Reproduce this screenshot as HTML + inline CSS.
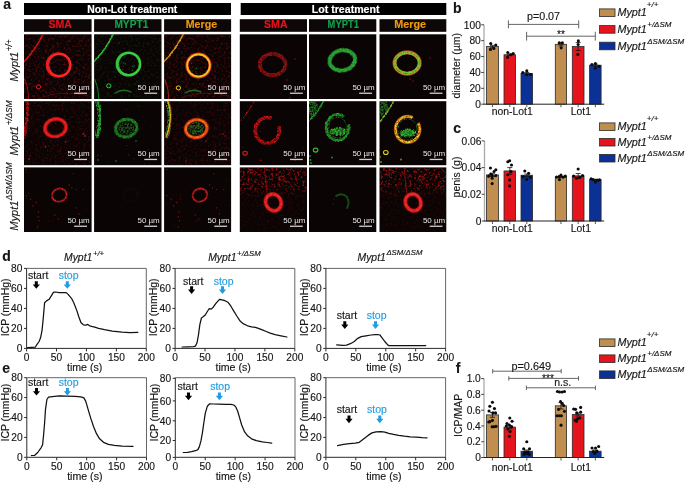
<!DOCTYPE html>
<html><head><meta charset="utf-8"><title>Figure</title>
<style>
html,body{margin:0;padding:0;background:#fff;width:685px;height:484px;overflow:hidden}
svg{display:block;will-change:transform;filter:blur(0.3px)}
text{font-family:"Liberation Sans",sans-serif}
</style></head><body>
<svg width="685" height="484" viewBox="0 0 685 484">
<text x="3.30" y="8.80" font-size="14" fill="#161616" stroke="#161616" stroke-width="0.15" font-weight="bold" >a</text>
<rect x="24" y="3" width="207" height="12" fill="#000"/>
<text x="87.20" y="13.10" font-size="10.4" fill="#fff" stroke="#fff" stroke-width="0.15" font-weight="bold" >Non-Lot treatment</text>
<rect x="240.7" y="3" width="205.6" height="12" fill="#000"/>
<text x="311.80" y="13.10" font-size="10.6" fill="#fff" stroke="#fff" stroke-width="0.15" font-weight="bold" >Lot treatment</text>
<rect x="24" y="19.2" width="67.6" height="12.6" fill="#0d0707"/>
<text x="48.50" y="27.60" font-size="10.6" fill="#E8121E" stroke="#E8121E" stroke-width="0.15" font-weight="bold" textLength="23.5" lengthAdjust="spacingAndGlyphs">SMA</text>
<rect x="94.1" y="19.2" width="67.4" height="12.6" fill="#0d0707"/>
<text x="114.40" y="27.60" font-size="10.5" fill="#13A24C" stroke="#13A24C" stroke-width="0.15" font-weight="bold" textLength="33.9" lengthAdjust="spacingAndGlyphs">MYPT1</text>
<rect x="164.1" y="19.2" width="67" height="12.6" fill="#0d0707"/>
<text x="185.70" y="27.60" font-size="10.6" fill="#F09A12" stroke="#F09A12" stroke-width="0.15" font-weight="bold" textLength="31.4" lengthAdjust="spacingAndGlyphs">Merge</text>
<rect x="239.8" y="19.2" width="67.2" height="12.6" fill="#0d0707"/>
<text x="264.10" y="27.60" font-size="10.6" fill="#E8121E" stroke="#E8121E" stroke-width="0.15" font-weight="bold" textLength="23.4" lengthAdjust="spacingAndGlyphs">SMA</text>
<rect x="309" y="19.2" width="67.3" height="12.6" fill="#0d0707"/>
<text x="327.60" y="27.60" font-size="10.3" fill="#13A24C" stroke="#13A24C" stroke-width="0.15" font-weight="bold" textLength="31.3" lengthAdjust="spacingAndGlyphs">MYPT1</text>
<rect x="379.5" y="19.2" width="66.8" height="12.6" fill="#0d0707"/>
<text x="394.20" y="27.60" font-size="10.6" fill="#F09A12" stroke="#F09A12" stroke-width="0.15" font-weight="bold" textLength="31.8" lengthAdjust="spacingAndGlyphs">Merge</text>
<text x="17.60" y="81.50" font-size="10.9" font-style="italic" fill="#161616" stroke="#161616" stroke-width="0.15" transform="rotate(-90 17.60 81.50)">Mypt1<tspan font-size="8.2" dx="0.6" dy="-5.8">+/+</tspan></text>
<text x="17.60" y="155.60" font-size="10.9" font-style="italic" fill="#161616" stroke="#161616" stroke-width="0.15" transform="rotate(-90 17.60 155.60)">Mypt1<tspan font-size="8.2" dx="0.6" dy="-5.8">+/ΔSM</tspan></text>
<text x="17.60" y="230.40" font-size="10.9" font-style="italic" fill="#161616" stroke="#161616" stroke-width="0.15" transform="rotate(-90 17.60 230.40)">Mypt1<tspan font-size="8.2" dx="0.6" dy="-5.8">ΔSM/ΔSM</tspan></text>
<defs><filter id="bl" x="-20%" y="-20%" width="140%" height="140%"><feGaussianBlur stdDeviation="0.35"/></filter><filter id="bl2" x="-20%" y="-20%" width="140%" height="140%"><feGaussianBlur stdDeviation="0.7"/></filter></defs>
<defs><filter id="spk" x="-20%" y="-20%" width="140%" height="140%"><feTurbulence type="fractalNoise" baseFrequency="0.55" numOctaves="2" seed="4" result="n"/><feColorMatrix in="n" type="matrix" values="0 0 0 0 0 0 0 0 0 0 0 0 0 0 0 3.2 0 0 0 -1.1" result="m"/><feComposite in="SourceGraphic" in2="m" operator="in" result="c"/><feGaussianBlur in="c" stdDeviation="0.3"/></filter><filter id="spk2" x="-20%" y="-20%" width="140%" height="140%"><feTurbulence type="fractalNoise" baseFrequency="0.6" numOctaves="2" seed="9" result="n"/><feColorMatrix in="n" type="matrix" values="0 0 0 0 0 0 0 0 0 0 0 0 0 0 0 4 0 0 0 -1.8" result="m"/><feComposite in="SourceGraphic" in2="m" operator="in" result="c"/><feGaussianBlur in="c" stdDeviation="0.3"/></filter><filter id="hz" x="0" y="0" width="100%" height="100%"><feTurbulence type="fractalNoise" baseFrequency="0.42" numOctaves="3" seed="21" result="n"/><feColorMatrix in="n" type="matrix" values="0 0 0 0 0 0 0 0 0 0 0 0 0 0 0 5 0 0 0 -2.55" result="m"/><feComposite in="SourceGraphic" in2="m" operator="in"/></filter><linearGradient id="fadeV" x1="0" y1="0" x2="0" y2="1"><stop offset="0" stop-color="#fff"/><stop offset="0.28" stop-color="#fff"/><stop offset="0.45" stop-color="#333"/><stop offset="1" stop-color="#222"/></linearGradient><mask id="mtop" maskContentUnits="objectBoundingBox"><rect width="1" height="1" fill="url(#fadeV)"/></mask></defs>
<clipPath id="c1"><rect x="24" y="34.3" width="67.6" height="64.7"/></clipPath>
<rect x="24" y="34.3" width="67.6" height="64.7" fill="#0b0404"/>
<g clip-path="url(#c1)">
<rect x="24" y="34.3" width="67.6" height="64.7" fill="#c01818" opacity="0.3" filter="url(#hz)"/>
<rect x="45.9" y="44.1" width="1.0" height="1.0" fill="#9a1010" opacity="0.23"/><rect x="60.2" y="58.0" width="0.5" height="0.5" fill="#9a1010" opacity="0.40"/><rect x="26.5" y="62.4" width="0.6" height="0.6" fill="#9a1010" opacity="0.24"/><rect x="52.7" y="87.8" width="0.6" height="0.6" fill="#9a1010" opacity="0.29"/><rect x="66.4" y="95.6" width="1.0" height="1.0" fill="#9a1010" opacity="0.36"/><rect x="90.0" y="37.3" width="1.2" height="1.2" fill="#9a1010" opacity="0.32"/><rect x="33.8" y="41.9" width="0.7" height="0.7" fill="#9a1010" opacity="0.53"/><rect x="36.2" y="71.9" width="1.0" height="1.0" fill="#9a1010" opacity="0.35"/><rect x="61.0" y="38.4" width="0.5" height="0.5" fill="#9a1010" opacity="0.28"/><rect x="70.0" y="62.0" width="0.8" height="0.8" fill="#9a1010" opacity="0.43"/><rect x="54.6" y="53.7" width="1.1" height="1.1" fill="#9a1010" opacity="0.48"/><rect x="40.5" y="71.5" width="0.9" height="0.9" fill="#9a1010" opacity="0.55"/><rect x="73.3" y="52.9" width="1.3" height="1.3" fill="#9a1010" opacity="0.25"/><rect x="52.3" y="83.3" width="0.6" height="0.6" fill="#9a1010" opacity="0.40"/><rect x="26.7" y="77.5" width="1.1" height="1.1" fill="#9a1010" opacity="0.43"/><rect x="83.2" y="54.6" width="1.1" height="1.1" fill="#9a1010" opacity="0.44"/><rect x="63.2" y="63.8" width="1.2" height="1.2" fill="#9a1010" opacity="0.58"/><rect x="56.0" y="77.3" width="0.5" height="0.5" fill="#9a1010" opacity="0.48"/><rect x="67.7" y="97.5" width="1.2" height="1.2" fill="#9a1010" opacity="0.31"/><rect x="50.1" y="77.6" width="0.5" height="0.5" fill="#9a1010" opacity="0.38"/><rect x="35.4" y="41.9" width="0.5" height="0.5" fill="#9a1010" opacity="0.51"/><rect x="32.7" y="50.3" width="0.8" height="0.8" fill="#9a1010" opacity="0.55"/><rect x="29.4" y="63.4" width="0.9" height="0.9" fill="#9a1010" opacity="0.55"/><rect x="79.4" y="90.2" width="0.7" height="0.7" fill="#9a1010" opacity="0.37"/><rect x="48.3" y="91.5" width="1.3" height="1.3" fill="#9a1010" opacity="0.26"/>
<path d="M43.5,33.3 Q36,49.3 24.2,61.3" fill="none" stroke="#e01818" stroke-width="1.9" opacity="0.9" stroke-linecap="round" filter="url(#spk)"/>
<path d="M43.5,33.3 Q36,49.3 24.2,61.3" fill="none" stroke="#e01818" stroke-width="1.1" opacity="0.85" stroke-linecap="round" filter="url(#bl)"/>
<path d="M24.5,79.3 Q29,89.3 28.5,100.3" fill="none" stroke="#c01515" stroke-width="1.1" opacity="0.7" stroke-linecap="round" filter="url(#bl)"/>
<path d="M42,97.3 Q64,89.3 90,96.3" fill="none" stroke="#c01515" stroke-width="0.9" opacity="0.35" stroke-linecap="round" filter="url(#bl)"/>
<ellipse cx="58.6" cy="65.0" rx="11.6" ry="11.4" fill="none" stroke="#ee1a1a" stroke-width="2.6" opacity="1" transform="rotate(0 58.6 65.0)" filter="url(#bl)"/>
<ellipse cx="59.8" cy="65.0" rx="11.0" ry="11.0" fill="none" stroke="#ff3838" stroke-width="1.1" opacity="0.8" transform="rotate(0 59.8 65.0)" filter="url(#bl)"/>
<ellipse cx="38.4" cy="86.9" rx="2.2" ry="2.0" fill="none" stroke="#ee1a1a" stroke-width="1.0" opacity="1" transform="rotate(0 38.4 86.9)" filter="url(#bl)"/>
<text x="67.4" y="89.9" font-size="7.95" fill="#e6e6e6">50 µm</text>
<rect x="74.2" y="92.6" width="12.8" height="1.3" fill="#cfcfcf"/>
</g>
<clipPath id="c2"><rect x="94.1" y="34.3" width="67.4" height="64.7"/></clipPath>
<rect x="94.1" y="34.3" width="67.4" height="64.7" fill="#0b0404"/>
<g clip-path="url(#c2)">
<rect x="94.1" y="34.3" width="67.4" height="64.7" fill="#1a8a20" opacity="0.15" filter="url(#hz)"/>
<rect x="106.0" y="49.3" width="0.7" height="0.7" fill="#0a7010" opacity="0.47"/><rect x="133.8" y="51.3" width="0.5" height="0.5" fill="#0a7010" opacity="0.44"/><rect x="119.0" y="70.9" width="1.3" height="1.3" fill="#0a7010" opacity="0.56"/><rect x="128.8" y="74.3" width="1.0" height="1.0" fill="#0a7010" opacity="0.27"/><rect x="154.7" y="84.8" width="1.2" height="1.2" fill="#0a7010" opacity="0.61"/><rect x="120.5" y="60.1" width="0.6" height="0.6" fill="#0a7010" opacity="0.54"/><rect x="98.3" y="38.7" width="0.7" height="0.7" fill="#0a7010" opacity="0.32"/><rect x="117.0" y="37.7" width="0.5" height="0.5" fill="#0a7010" opacity="0.32"/><rect x="100.9" y="57.8" width="0.5" height="0.5" fill="#0a7010" opacity="0.64"/><rect x="135.5" y="43.9" width="0.7" height="0.7" fill="#0a7010" opacity="0.41"/><rect x="118.6" y="42.2" width="1.2" height="1.2" fill="#0a7010" opacity="0.70"/><rect x="125.5" y="65.6" width="0.6" height="0.6" fill="#0a7010" opacity="0.30"/><rect x="117.2" y="51.4" width="1.2" height="1.2" fill="#0a7010" opacity="0.32"/><rect x="95.7" y="95.8" width="0.9" height="0.9" fill="#0a7010" opacity="0.32"/><rect x="130.7" y="36.0" width="0.9" height="0.9" fill="#0a7010" opacity="0.69"/>
<path d="M113.6,33.3 Q106.1,49.3 94.3,61.3" fill="none" stroke="#34c83a" stroke-width="1.9" opacity="0.9" stroke-linecap="round" filter="url(#spk)"/>
<path d="M113.6,33.3 Q106.1,49.3 94.3,61.3" fill="none" stroke="#34c83a" stroke-width="1.1" opacity="0.85" stroke-linecap="round" filter="url(#bl)"/>
<path d="M94.6,79.3 Q99.1,89.3 98.6,100.3" fill="none" stroke="#22a028" stroke-width="1.1" opacity="0.7" stroke-linecap="round" filter="url(#bl)"/>
<ellipse cx="128.5" cy="64.0" rx="11.6" ry="11.3" fill="none" stroke="#36c83c" stroke-width="2.5" opacity="1" transform="rotate(0 128.5 64.0)" filter="url(#bl)"/>
<ellipse cx="129.5" cy="64.0" rx="11.0" ry="10.9" fill="none" stroke="#44d848" stroke-width="1.0" opacity="0.8" transform="rotate(0 129.5 64.0)" filter="url(#bl)"/>
<ellipse cx="108.8" cy="85.9" rx="2.2" ry="2.0" fill="none" stroke="#36c83c" stroke-width="1.0" opacity="1" transform="rotate(0 108.8 85.9)" filter="url(#bl)"/>
<rect x="132.1" y="68.4" width="0.7" height="0.7" fill="#30b030" opacity="0.42"/><rect x="122.3" y="69.3" width="0.9" height="0.9" fill="#30b030" opacity="0.60"/><rect x="124.6" y="62.7" width="1.1" height="1.1" fill="#30b030" opacity="0.69"/><rect x="131.9" y="69.7" width="1.2" height="1.2" fill="#30b030" opacity="0.58"/><rect x="123.2" y="66.2" width="0.8" height="0.8" fill="#30b030" opacity="0.26"/><rect x="120.4" y="63.4" width="0.7" height="0.7" fill="#30b030" opacity="0.56"/><rect x="133.4" y="65.4" width="1.2" height="1.2" fill="#30b030" opacity="0.69"/><rect x="133.4" y="64.4" width="0.7" height="0.7" fill="#30b030" opacity="0.35"/><rect x="122.8" y="62.5" width="1.0" height="1.0" fill="#30b030" opacity="0.66"/><rect x="131.8" y="65.8" width="1.0" height="1.0" fill="#30b030" opacity="0.61"/>
<path d="M115,93 Q123,88 131,92" fill="none" stroke="#2a9a2a" stroke-width="1.3" opacity="0.7" stroke-linecap="round" filter="url(#bl)"/>
<text x="137.5" y="89.9" font-size="7.95" fill="#e6e6e6">50 µm</text>
<rect x="144.3" y="92.6" width="12.8" height="1.3" fill="#cfcfcf"/>
</g>
<clipPath id="c3"><rect x="164.1" y="34.3" width="67" height="64.7"/></clipPath>
<rect x="164.1" y="34.3" width="67" height="64.7" fill="#0b0404"/>
<g clip-path="url(#c3)">
<rect x="164.1" y="34.3" width="67" height="64.7" fill="#c01818" opacity="0.28" filter="url(#hz)"/>
<rect x="169.8" y="77.0" width="1.2" height="1.2" fill="#9a1010" opacity="0.51"/><rect x="214.4" y="65.2" width="0.6" height="0.6" fill="#9a1010" opacity="0.52"/><rect x="186.4" y="86.1" width="1.3" height="1.3" fill="#9a1010" opacity="0.36"/><rect x="191.0" y="95.6" width="1.1" height="1.1" fill="#9a1010" opacity="0.27"/><rect x="172.6" y="44.1" width="1.2" height="1.2" fill="#9a1010" opacity="0.52"/><rect x="173.9" y="87.8" width="1.3" height="1.3" fill="#9a1010" opacity="0.46"/><rect x="187.6" y="69.8" width="0.6" height="0.6" fill="#9a1010" opacity="0.21"/><rect x="229.1" y="76.3" width="0.9" height="0.9" fill="#9a1010" opacity="0.57"/><rect x="193.2" y="90.7" width="1.2" height="1.2" fill="#9a1010" opacity="0.28"/><rect x="181.0" y="53.3" width="0.7" height="0.7" fill="#9a1010" opacity="0.43"/><rect x="181.5" y="61.4" width="0.6" height="0.6" fill="#9a1010" opacity="0.56"/><rect x="187.8" y="63.9" width="1.0" height="1.0" fill="#9a1010" opacity="0.56"/><rect x="192.3" y="93.7" width="0.9" height="0.9" fill="#9a1010" opacity="0.41"/><rect x="199.2" y="35.5" width="0.9" height="0.9" fill="#9a1010" opacity="0.27"/><rect x="164.6" y="86.0" width="0.6" height="0.6" fill="#9a1010" opacity="0.39"/><rect x="212.7" y="70.3" width="0.8" height="0.8" fill="#9a1010" opacity="0.41"/><rect x="201.3" y="85.0" width="0.6" height="0.6" fill="#9a1010" opacity="0.42"/><rect x="180.7" y="52.2" width="1.1" height="1.1" fill="#9a1010" opacity="0.40"/><rect x="201.7" y="83.5" width="1.2" height="1.2" fill="#9a1010" opacity="0.38"/><rect x="205.1" y="67.0" width="0.9" height="0.9" fill="#9a1010" opacity="0.48"/><rect x="194.4" y="68.8" width="0.9" height="0.9" fill="#9a1010" opacity="0.58"/><rect x="210.9" y="91.0" width="1.3" height="1.3" fill="#9a1010" opacity="0.30"/><rect x="201.6" y="95.3" width="1.2" height="1.2" fill="#9a1010" opacity="0.25"/><rect x="172.2" y="62.9" width="0.6" height="0.6" fill="#9a1010" opacity="0.30"/><rect x="169.0" y="77.6" width="1.1" height="1.1" fill="#9a1010" opacity="0.56"/>
<path d="M183.6,33.3 Q176.1,49.3 164.29999999999998,61.3" fill="none" stroke="#e0a020" stroke-width="1.9" opacity="0.9" stroke-linecap="round" filter="url(#spk)"/>
<path d="M183.6,33.3 Q176.1,49.3 164.29999999999998,61.3" fill="none" stroke="#e0a020" stroke-width="1.1" opacity="0.85" stroke-linecap="round" filter="url(#bl)"/>
<path d="M164.6,79.3 Q169.1,89.3 168.6,100.3" fill="none" stroke="#c03015" stroke-width="1.1" opacity="0.7" stroke-linecap="round" filter="url(#bl)"/>
<path d="M182.1,97.3 Q204.1,89.3 230.1,96.3" fill="none" stroke="#c03015" stroke-width="0.9" opacity="0.35" stroke-linecap="round" filter="url(#bl)"/>
<ellipse cx="198.5" cy="65.5" rx="11.6" ry="11.4" fill="none" stroke="#e03010" stroke-width="3.0" opacity="1" transform="rotate(0 198.5 65.5)" filter="url(#bl)"/>
<ellipse cx="198.5" cy="65.5" rx="11.3" ry="11.1" fill="none" stroke="#f0c828" stroke-width="1.7" opacity="1" transform="rotate(0 198.5 65.5)" filter="url(#bl)"/>
<ellipse cx="178.4" cy="87.9" rx="2.2" ry="2.0" fill="none" stroke="#e8d020" stroke-width="1.0" opacity="1" transform="rotate(0 178.4 87.9)" filter="url(#bl)"/>
<rect x="192.2" y="70.6" width="1.0" height="1.0" fill="#30b030" opacity="0.31"/><rect x="202.4" y="73.6" width="0.7" height="0.7" fill="#30b030" opacity="0.68"/><rect x="195.6" y="67.8" width="1.3" height="1.3" fill="#30b030" opacity="0.62"/><rect x="192.3" y="67.2" width="0.9" height="0.9" fill="#30b030" opacity="0.40"/><rect x="192.7" y="65.8" width="1.1" height="1.1" fill="#30b030" opacity="0.26"/><rect x="197.8" y="67.3" width="0.5" height="0.5" fill="#30b030" opacity="0.40"/><rect x="198.7" y="68.1" width="0.6" height="0.6" fill="#30b030" opacity="0.69"/><rect x="201.0" y="73.7" width="0.6" height="0.6" fill="#30b030" opacity="0.37"/><rect x="190.6" y="71.3" width="0.7" height="0.7" fill="#30b030" opacity="0.31"/><rect x="195.9" y="72.9" width="1.2" height="1.2" fill="#30b030" opacity="0.37"/><rect x="192.1" y="73.0" width="1.0" height="1.0" fill="#30b030" opacity="0.57"/><rect x="191.3" y="62.7" width="1.1" height="1.1" fill="#30b030" opacity="0.44"/>
<path d="M185,93 Q193,88 201,92" fill="none" stroke="#2a9a2a" stroke-width="1.3" opacity="0.7" stroke-linecap="round" filter="url(#bl)"/>
<text x="207.5" y="89.9" font-size="7.95" fill="#e6e6e6">50 µm</text>
<rect x="214.3" y="92.6" width="12.8" height="1.3" fill="#cfcfcf"/>
</g>
<clipPath id="c4"><rect x="239.8" y="34.3" width="67.2" height="64.7"/></clipPath>
<rect x="239.8" y="34.3" width="67.2" height="64.7" fill="#0b0404"/>
<g clip-path="url(#c4)">
<ellipse cx="272.6" cy="64.5" rx="12.8" ry="10.8" fill="none" stroke="#c81818" stroke-width="3.6" opacity="1" transform="rotate(0 272.6 64.5)" filter="url(#spk)"/>
<ellipse cx="272.6" cy="64.5" rx="12.8" ry="10.8" fill="none" stroke="#801010" stroke-width="3.4" opacity="0.6" transform="rotate(0 272.6 64.5)" filter="url(#bl)"/>
<circle cx="295" cy="59" r="0.7" fill="#c01818" opacity="0.8"/><circle cx="287" cy="80" r="0.7" fill="#c01818" opacity="0.8"/><circle cx="290" cy="98" r="0.7" fill="#c01818" opacity="0.8"/>
<text x="283.2" y="89.9" font-size="7.95" fill="#e6e6e6">50 µm</text>
<rect x="290.0" y="92.6" width="12.8" height="1.3" fill="#cfcfcf"/>
</g>
<clipPath id="c5"><rect x="309" y="34.3" width="67.3" height="64.7"/></clipPath>
<rect x="309" y="34.3" width="67.3" height="64.7" fill="#0b0404"/>
<g clip-path="url(#c5)">
<ellipse cx="342.3" cy="60.3" rx="12.8" ry="10.1" fill="none" stroke="#40d048" stroke-width="3.8" opacity="1" transform="rotate(-10 342.3 60.3)" filter="url(#spk)"/>
<ellipse cx="342.3" cy="60.3" rx="12.8" ry="10.1" fill="none" stroke="#28a830" stroke-width="3.2" opacity="0.85" transform="rotate(-10 342.3 60.3)" filter="url(#bl)"/>
<text x="352.4" y="89.9" font-size="7.95" fill="#e6e6e6">50 µm</text>
<rect x="359.2" y="92.6" width="12.8" height="1.3" fill="#cfcfcf"/>
</g>
<clipPath id="c6"><rect x="379.5" y="34.3" width="66.8" height="64.7"/></clipPath>
<rect x="379.5" y="34.3" width="66.8" height="64.7" fill="#0b0404"/>
<g clip-path="url(#c6)">
<ellipse cx="407.1" cy="63.0" rx="12.6" ry="10.7" fill="none" stroke="#c05018" stroke-width="4.0" opacity="0.9" transform="rotate(0 407.1 63.0)" filter="url(#bl)"/>
<ellipse cx="407.1" cy="63.0" rx="12.4" ry="10.5" fill="none" stroke="#8cc030" stroke-width="3.0" opacity="1" transform="rotate(0 407.1 63.0)" filter="url(#bl)"/>
<ellipse cx="407.1" cy="63.0" rx="12.2" ry="10.3" fill="none" stroke="#40c038" stroke-width="2.0" opacity="0.9" transform="rotate(0 407.1 63.0)" filter="url(#spk)"/>
<ellipse cx="407.1" cy="63.0" rx="12.8" ry="10.9" fill="none" stroke="#e03818" stroke-width="1.2" opacity="0.8" transform="rotate(0 407.1 63.0)" filter="url(#spk)"/>
<circle cx="430" cy="58" r="0.7" fill="#c01818" opacity="0.8"/><circle cx="410" cy="79" r="0.7" fill="#c01818" opacity="0.8"/><circle cx="413" cy="81" r="0.7" fill="#c01818" opacity="0.8"/>
<text x="422.9" y="89.9" font-size="7.95" fill="#e6e6e6">50 µm</text>
<rect x="429.7" y="92.6" width="12.8" height="1.3" fill="#cfcfcf"/>
</g>
<clipPath id="c7"><rect x="24" y="101.2" width="67.6" height="64.0"/></clipPath>
<rect x="24" y="101.2" width="67.6" height="64.0" fill="#0b0404"/>
<g clip-path="url(#c7)">
<rect x="24" y="101.2" width="67.6" height="64.0" fill="#c01818" opacity="0.18" filter="url(#hz)"/>
<rect x="28.9" y="161.3" width="1.0" height="1.0" fill="#9a1010" opacity="0.52"/><rect x="29.7" y="156.0" width="0.6" height="0.6" fill="#9a1010" opacity="0.55"/><rect x="54.7" y="122.9" width="0.9" height="0.9" fill="#9a1010" opacity="0.57"/><rect x="42.1" y="109.5" width="0.9" height="0.9" fill="#9a1010" opacity="0.30"/><rect x="31.4" y="111.5" width="0.5" height="0.5" fill="#9a1010" opacity="0.28"/><rect x="45.1" y="120.7" width="1.1" height="1.1" fill="#9a1010" opacity="0.32"/><rect x="57.8" y="112.6" width="0.8" height="0.8" fill="#9a1010" opacity="0.21"/><rect x="40.9" y="102.2" width="1.1" height="1.1" fill="#9a1010" opacity="0.42"/><rect x="36.8" y="131.6" width="1.2" height="1.2" fill="#9a1010" opacity="0.24"/><rect x="79.4" y="128.9" width="0.9" height="0.9" fill="#9a1010" opacity="0.53"/><rect x="50.6" y="133.6" width="1.1" height="1.1" fill="#9a1010" opacity="0.59"/><rect x="47.2" y="154.5" width="1.1" height="1.1" fill="#9a1010" opacity="0.45"/><rect x="51.4" y="123.4" width="0.5" height="0.5" fill="#9a1010" opacity="0.25"/><rect x="28.8" y="148.6" width="0.7" height="0.7" fill="#9a1010" opacity="0.27"/><rect x="29.7" y="155.0" width="1.2" height="1.2" fill="#9a1010" opacity="0.47"/><rect x="43.1" y="116.7" width="0.7" height="0.7" fill="#9a1010" opacity="0.38"/><rect x="34.6" y="129.7" width="0.7" height="0.7" fill="#9a1010" opacity="0.58"/><rect x="89.7" y="136.2" width="0.7" height="0.7" fill="#9a1010" opacity="0.59"/><rect x="44.9" y="124.0" width="0.5" height="0.5" fill="#9a1010" opacity="0.35"/><rect x="56.1" y="133.4" width="0.7" height="0.7" fill="#9a1010" opacity="0.40"/><rect x="24.5" y="118.1" width="0.6" height="0.6" fill="#9a1010" opacity="0.36"/><rect x="26.8" y="102.6" width="0.7" height="0.7" fill="#9a1010" opacity="0.29"/><rect x="63.6" y="135.1" width="1.1" height="1.1" fill="#9a1010" opacity="0.46"/><rect x="72.4" y="157.5" width="0.8" height="0.8" fill="#9a1010" opacity="0.33"/><rect x="90.1" y="110.8" width="1.1" height="1.1" fill="#9a1010" opacity="0.46"/>
<path d="M27.2,101.2 Q28.5,112 25.6,129 Q25,133 24,137" fill="none" stroke="#e01818" stroke-width="3.2" opacity="0.9" stroke-linecap="round" filter="url(#spk)"/>
<path d="M27.7,101.2 Q28.5,112 25.6,129 Q25,133 24,137" fill="none" stroke="#a01010" stroke-width="1.2" opacity="0.6" stroke-linecap="round" filter="url(#bl)"/>
<ellipse cx="55.5" cy="127.8" rx="10.6" ry="8.8" fill="none" stroke="#ee1a1a" stroke-width="3.4" opacity="1" transform="rotate(-12 55.5 127.8)" filter="url(#bl)"/>
<ellipse cx="55.5" cy="127.8" rx="9.4" ry="7.6" fill="none" stroke="#901010" stroke-width="0.7" opacity="0.8" transform="rotate(-12 55.5 127.8)" filter="url(#bl)"/>
<circle cx="65.5" cy="141.8" r="0.9" fill="#d01818" opacity="0.8"/><circle cx="83.3" cy="134" r="0.9" fill="#d01818" opacity="0.8"/><circle cx="85" cy="136" r="0.9" fill="#d01818" opacity="0.8"/><circle cx="45.5" cy="146.8" r="0.9" fill="#d01818" opacity="0.8"/><circle cx="29.1" cy="158.9" r="0.9" fill="#d01818" opacity="0.8"/>
<text x="67.4" y="156.1" font-size="7.95" fill="#e6e6e6">50 µm</text>
<rect x="74.2" y="158.8" width="12.8" height="1.3" fill="#cfcfcf"/>
</g>
<clipPath id="c8"><rect x="94.1" y="101.2" width="67.4" height="64.0"/></clipPath>
<rect x="94.1" y="101.2" width="67.4" height="64.0" fill="#0b0404"/>
<g clip-path="url(#c8)">
<rect x="97.1" y="154.7" width="1.2" height="1.2" fill="#0a7010" opacity="0.53"/><rect x="143.6" y="153.2" width="0.6" height="0.6" fill="#0a7010" opacity="0.49"/><rect x="128.1" y="154.6" width="1.1" height="1.1" fill="#0a7010" opacity="0.62"/><rect x="133.5" y="158.3" width="1.0" height="1.0" fill="#0a7010" opacity="0.56"/><rect x="109.6" y="103.2" width="0.6" height="0.6" fill="#0a7010" opacity="0.41"/><rect x="101.2" y="154.7" width="0.9" height="0.9" fill="#0a7010" opacity="0.53"/><rect x="136.3" y="144.8" width="0.9" height="0.9" fill="#0a7010" opacity="0.25"/><rect x="147.9" y="149.1" width="0.9" height="0.9" fill="#0a7010" opacity="0.49"/><rect x="138.5" y="105.4" width="1.1" height="1.1" fill="#0a7010" opacity="0.36"/><rect x="99.1" y="118.2" width="1.1" height="1.1" fill="#0a7010" opacity="0.34"/><rect x="144.0" y="163.6" width="0.9" height="0.9" fill="#0a7010" opacity="0.42"/><rect x="126.4" y="145.0" width="1.1" height="1.1" fill="#0a7010" opacity="0.53"/><rect x="137.4" y="106.2" width="0.6" height="0.6" fill="#0a7010" opacity="0.36"/><rect x="144.2" y="120.7" width="1.0" height="1.0" fill="#0a7010" opacity="0.26"/><rect x="98.2" y="118.4" width="1.0" height="1.0" fill="#0a7010" opacity="0.56"/><rect x="139.6" y="119.8" width="0.9" height="0.9" fill="#0a7010" opacity="0.46"/><rect x="125.5" y="108.8" width="1.2" height="1.2" fill="#0a7010" opacity="0.34"/><rect x="160.0" y="161.1" width="0.5" height="0.5" fill="#0a7010" opacity="0.46"/><rect x="149.4" y="163.2" width="0.9" height="0.9" fill="#0a7010" opacity="0.37"/><rect x="108.2" y="161.7" width="0.7" height="0.7" fill="#0a7010" opacity="0.51"/>
<path d="M96.5,101.2 Q103.5,116 96.6,136" fill="none" stroke="#30b838" stroke-width="4.5" opacity="0.9" stroke-linecap="round" filter="url(#spk)"/>
<path d="M97.5,101.2 Q103.5,116 96.6,136" fill="none" stroke="#2aa832" stroke-width="1.4" opacity="0.8" stroke-linecap="round" filter="url(#bl)"/>
<ellipse cx="126.2" cy="128.2" rx="8" ry="6.5" fill="#2aa030" opacity="0.5" filter="url(#spk)"/>
<ellipse cx="126.2" cy="128.2" rx="10.8" ry="8.8" fill="none" stroke="#2cb834" stroke-width="3.0" opacity="1" transform="rotate(-10 126.2 128.2)" filter="url(#spk)"/>
<ellipse cx="126.2" cy="128.2" rx="10.8" ry="8.8" fill="none" stroke="#1a7a20" stroke-width="2.2" opacity="0.8" transform="rotate(-10 126.2 128.2)" filter="url(#bl)"/>
<circle cx="136" cy="141" r="0.8" fill="#20a028" opacity="0.8"/><circle cx="116" cy="161" r="0.8" fill="#20a028" opacity="0.8"/><circle cx="98" cy="160" r="0.8" fill="#20a028" opacity="0.8"/>
<text x="137.5" y="156.1" font-size="7.95" fill="#e6e6e6">50 µm</text>
<rect x="144.3" y="158.8" width="12.8" height="1.3" fill="#cfcfcf"/>
</g>
<clipPath id="c9"><rect x="164.1" y="101.2" width="67" height="64.0"/></clipPath>
<rect x="164.1" y="101.2" width="67" height="64.0" fill="#0b0404"/>
<g clip-path="url(#c9)">
<rect x="164.1" y="101.2" width="67" height="64.0" fill="#c01818" opacity="0.18" filter="url(#hz)"/>
<rect x="173.6" y="134.7" width="1.3" height="1.3" fill="#9a1010" opacity="0.25"/><rect x="219.1" y="133.8" width="1.2" height="1.2" fill="#9a1010" opacity="0.48"/><rect x="179.6" y="158.7" width="0.9" height="0.9" fill="#9a1010" opacity="0.21"/><rect x="164.6" y="132.7" width="0.9" height="0.9" fill="#9a1010" opacity="0.32"/><rect x="173.5" y="123.2" width="0.8" height="0.8" fill="#9a1010" opacity="0.54"/><rect x="164.6" y="149.2" width="1.2" height="1.2" fill="#9a1010" opacity="0.25"/><rect x="226.2" y="146.8" width="1.2" height="1.2" fill="#9a1010" opacity="0.32"/><rect x="189.0" y="126.3" width="1.3" height="1.3" fill="#9a1010" opacity="0.44"/><rect x="188.3" y="128.6" width="0.7" height="0.7" fill="#9a1010" opacity="0.22"/><rect x="170.9" y="154.6" width="0.7" height="0.7" fill="#9a1010" opacity="0.57"/><rect x="180.8" y="118.2" width="0.9" height="0.9" fill="#9a1010" opacity="0.28"/><rect x="189.1" y="162.4" width="1.2" height="1.2" fill="#9a1010" opacity="0.52"/><rect x="206.4" y="159.7" width="1.3" height="1.3" fill="#9a1010" opacity="0.42"/><rect x="212.3" y="104.4" width="1.1" height="1.1" fill="#9a1010" opacity="0.38"/><rect x="214.5" y="142.4" width="0.7" height="0.7" fill="#9a1010" opacity="0.22"/><rect x="226.2" y="109.3" width="0.9" height="0.9" fill="#9a1010" opacity="0.34"/><rect x="184.1" y="148.5" width="1.3" height="1.3" fill="#9a1010" opacity="0.30"/><rect x="208.1" y="120.5" width="0.9" height="0.9" fill="#9a1010" opacity="0.36"/><rect x="175.3" y="111.5" width="0.7" height="0.7" fill="#9a1010" opacity="0.56"/><rect x="197.4" y="115.3" width="1.2" height="1.2" fill="#9a1010" opacity="0.60"/><rect x="194.2" y="110.1" width="0.7" height="0.7" fill="#9a1010" opacity="0.24"/><rect x="187.0" y="107.0" width="0.7" height="0.7" fill="#9a1010" opacity="0.30"/><rect x="202.3" y="158.0" width="1.1" height="1.1" fill="#9a1010" opacity="0.37"/><rect x="191.8" y="134.7" width="0.8" height="0.8" fill="#9a1010" opacity="0.34"/><rect x="168.3" y="119.0" width="1.3" height="1.3" fill="#9a1010" opacity="0.25"/>
<path d="M166.5,101.2 Q173.5,116 166.6,136" fill="none" stroke="#40b030" stroke-width="4.5" opacity="0.9" stroke-linecap="round" filter="url(#spk)"/>
<path d="M167.8,101.2 Q173.5,116 166.6,136" fill="none" stroke="#e8c020" stroke-width="1.4" opacity="0.9" stroke-linecap="round" filter="url(#bl)"/>
<path d="M169.3,101.2 Q174.8,116 167.8,136" fill="none" stroke="#d03010" stroke-width="0.8" opacity="0.7" stroke-linecap="round" filter="url(#bl)"/>
<ellipse cx="196.3" cy="128.6" rx="8" ry="6.5" fill="#2aa030" opacity="0.6" filter="url(#spk)"/>
<ellipse cx="196.3" cy="128.6" rx="10.8" ry="9.0" fill="none" stroke="#e84010" stroke-width="3.2" opacity="1" transform="rotate(-10 196.3 128.6)" filter="url(#bl)"/>
<ellipse cx="196.3" cy="128.6" rx="10.4" ry="8.6" fill="none" stroke="#f0b820" stroke-width="1.4" opacity="0.9" transform="rotate(-10 196.3 128.6)" filter="url(#spk)"/>
<circle cx="206" cy="141" r="0.8" fill="#c01818" opacity="0.8"/><circle cx="223" cy="134" r="0.8" fill="#c01818" opacity="0.8"/><circle cx="225" cy="136" r="0.8" fill="#c01818" opacity="0.8"/><circle cx="186" cy="161" r="0.8" fill="#c01818" opacity="0.8"/>
<text x="207.5" y="156.1" font-size="7.95" fill="#e6e6e6">50 µm</text>
<rect x="214.3" y="158.8" width="12.8" height="1.3" fill="#cfcfcf"/>
</g>
<clipPath id="c10"><rect x="239.8" y="101.2" width="67.2" height="64.0"/></clipPath>
<rect x="239.8" y="101.2" width="67.2" height="64.0" fill="#0b0404"/>
<g clip-path="url(#c10)">
<rect x="273.6" y="141.5" width="1.2" height="1.2" fill="#9a1010" opacity="0.29"/><rect x="258.0" y="117.1" width="0.8" height="0.8" fill="#9a1010" opacity="0.38"/><rect x="303.9" y="155.5" width="1.2" height="1.2" fill="#9a1010" opacity="0.21"/><rect x="242.0" y="146.6" width="1.2" height="1.2" fill="#9a1010" opacity="0.39"/><rect x="279.3" y="101.7" width="0.8" height="0.8" fill="#9a1010" opacity="0.57"/><rect x="295.3" y="155.9" width="1.3" height="1.3" fill="#9a1010" opacity="0.30"/><rect x="247.1" y="111.1" width="0.9" height="0.9" fill="#9a1010" opacity="0.47"/><rect x="303.1" y="147.4" width="1.0" height="1.0" fill="#9a1010" opacity="0.51"/><rect x="270.5" y="136.5" width="0.5" height="0.5" fill="#9a1010" opacity="0.51"/><rect x="255.4" y="160.1" width="1.0" height="1.0" fill="#9a1010" opacity="0.32"/><rect x="248.4" y="117.3" width="1.0" height="1.0" fill="#9a1010" opacity="0.48"/><rect x="247.3" y="105.7" width="0.9" height="0.9" fill="#9a1010" opacity="0.43"/><rect x="265.9" y="115.5" width="1.0" height="1.0" fill="#9a1010" opacity="0.20"/><rect x="260.1" y="130.7" width="1.3" height="1.3" fill="#9a1010" opacity="0.46"/><rect x="299.2" y="131.6" width="0.7" height="0.7" fill="#9a1010" opacity="0.30"/><rect x="304.4" y="146.3" width="0.7" height="0.7" fill="#9a1010" opacity="0.21"/><rect x="273.3" y="144.4" width="0.8" height="0.8" fill="#9a1010" opacity="0.30"/><rect x="284.6" y="160.4" width="0.7" height="0.7" fill="#9a1010" opacity="0.21"/><rect x="262.5" y="128.1" width="1.0" height="1.0" fill="#9a1010" opacity="0.28"/><rect x="293.4" y="148.5" width="0.9" height="0.9" fill="#9a1010" opacity="0.28"/>
<path d="M254.4,101 Q248,112 240.1,121.8" fill="none" stroke="#d01818" stroke-width="1.3" opacity="0.9" stroke-linecap="round" filter="url(#spk)"/>
<ellipse cx="267.2" cy="130.4" rx="12.0" ry="12.9" fill="none" stroke="#f01c1c" stroke-width="3.6" opacity="1" transform="rotate(0 267.2 130.4)" filter="url(#spk)" stroke-dasharray="62.6 11.0 4.7 0"/>
<ellipse cx="267.2" cy="130.4" rx="12.0" ry="12.9" fill="none" stroke="#a01010" stroke-width="2.6" opacity="0.6" transform="rotate(0 267.2 130.4)" filter="url(#bl)" stroke-dasharray="62.6 11.0 4.7 0"/>
<ellipse cx="245.1" cy="153.2" rx="2.2" ry="1.9" fill="none" stroke="#e01818" stroke-width="1.1" opacity="1" transform="rotate(0 245.1 153.2)" filter="url(#bl)"/>
<circle cx="260.8" cy="160.3" r="0.8" fill="#d01818" opacity="0.8"/><circle cx="295" cy="160" r="0.8" fill="#d01818" opacity="0.8"/>
<text x="283.2" y="156.1" font-size="7.95" fill="#e6e6e6">50 µm</text>
<rect x="290.0" y="158.8" width="12.8" height="1.3" fill="#cfcfcf"/>
</g>
<clipPath id="c11"><rect x="309" y="101.2" width="67.3" height="64.0"/></clipPath>
<rect x="309" y="101.2" width="67.3" height="64.0" fill="#0b0404"/>
<g clip-path="url(#c11)">
<ellipse cx="313" cy="108" rx="5" ry="9" fill="#2aa030" opacity="0.7" filter="url(#spk)"/>
<path d="M324.1,100.5 Q318,112 309.6,120.4" fill="none" stroke="#34c83a" stroke-width="2.0" opacity="0.85" stroke-linecap="round" filter="url(#spk)"/>
<path d="M324.1,100.5 Q318,112 309.6,120.4" fill="none" stroke="#26a02c" stroke-width="1.0" opacity="0.8" stroke-linecap="round" filter="url(#bl)"/>
<ellipse cx="338" cy="131.5" rx="8.5" ry="4.5" fill="#40d040" opacity="0.85" filter="url(#spk)"/>
<ellipse cx="338" cy="131.5" rx="7" ry="3.5" fill="#26a02c" opacity="0.45" filter="url(#bl2)"/>
<ellipse cx="337.6" cy="127.4" rx="11.4" ry="12.8" fill="none" stroke="#38d040" stroke-width="3.0" opacity="1" transform="rotate(0 337.6 127.4)" filter="url(#spk)" stroke-dasharray="63.4 9.4 5.5 0"/>
<ellipse cx="337.6" cy="127.4" rx="11.4" ry="12.8" fill="none" stroke="#1e8a24" stroke-width="2.0" opacity="0.8" transform="rotate(0 337.6 127.4)" filter="url(#bl)" stroke-dasharray="63.4 9.4 5.5 0"/>
<ellipse cx="337.6" cy="127.4" rx="9.0" ry="10.4" fill="none" stroke="#30c038" stroke-width="1.0" opacity="0.7" transform="rotate(0 337.6 127.4)" filter="url(#spk)"/>
<ellipse cx="315.6" cy="150.1" rx="2.3" ry="2.0" fill="none" stroke="#30c038" stroke-width="1.1" opacity="1" transform="rotate(0 315.6 150.1)" filter="url(#bl)"/>
<circle cx="332" cy="157.5" r="0.9" fill="#30b030" opacity="0.8"/><circle cx="310" cy="156" r="0.9" fill="#30b030" opacity="0.8"/><circle cx="310.5" cy="160" r="0.9" fill="#30b030" opacity="0.8"/><circle cx="311" cy="163" r="0.9" fill="#30b030" opacity="0.8"/>
<text x="352.4" y="156.1" font-size="7.95" fill="#e6e6e6">50 µm</text>
<rect x="359.2" y="158.8" width="12.8" height="1.3" fill="#cfcfcf"/>
</g>
<clipPath id="c12"><rect x="379.5" y="101.2" width="66.8" height="64.0"/></clipPath>
<rect x="379.5" y="101.2" width="66.8" height="64.0" fill="#0b0404"/>
<g clip-path="url(#c12)">
<ellipse cx="383" cy="108" rx="5" ry="9" fill="#2aa030" opacity="0.7" filter="url(#spk)"/>
<path d="M394.1,100.5 Q388,112 379.9,121.8" fill="none" stroke="#60c030" stroke-width="2.0" opacity="0.85" stroke-linecap="round" filter="url(#spk)"/>
<path d="M394.1,100.5 Q388,112 379.9,121.8" fill="none" stroke="#a0c020" stroke-width="1.0" opacity="0.8" stroke-linecap="round" filter="url(#bl)"/>
<ellipse cx="408" cy="133" rx="8.5" ry="4.5" fill="#40d040" opacity="1.0" filter="url(#spk)"/>
<ellipse cx="408" cy="133" rx="7" ry="3.5" fill="#26a02c" opacity="0.6" filter="url(#bl2)"/>
<ellipse cx="407.6" cy="129.4" rx="12.2" ry="13.0" fill="none" stroke="#c86018" stroke-width="3.2" opacity="0.9" transform="rotate(0 407.6 129.4)" filter="url(#bl)" stroke-dasharray="64.1 7.8 6.3 0"/>
<ellipse cx="407.6" cy="129.4" rx="12.0" ry="12.8" fill="none" stroke="#e8e030" stroke-width="2.2" opacity="1" transform="rotate(0 407.6 129.4)" filter="url(#spk)" stroke-dasharray="64.1 7.8 6.3 0"/>
<ellipse cx="407.6" cy="129.4" rx="9.6" ry="10.6" fill="none" stroke="#30a030" stroke-width="1.0" opacity="0.7" transform="rotate(0 407.6 129.4)" filter="url(#spk)"/>
<ellipse cx="385.8" cy="152.5" rx="2.3" ry="2.0" fill="none" stroke="#d8d020" stroke-width="1.1" opacity="1" transform="rotate(0 385.8 152.5)" filter="url(#bl)"/>
<circle cx="401" cy="159.5" r="0.9" fill="#a0b020" opacity="0.8"/><circle cx="380" cy="157" r="0.9" fill="#a0b020" opacity="0.8"/><circle cx="381" cy="162" r="0.9" fill="#a0b020" opacity="0.8"/>
<text x="422.9" y="156.1" font-size="7.95" fill="#e6e6e6">50 µm</text>
<rect x="429.7" y="158.8" width="12.8" height="1.3" fill="#cfcfcf"/>
</g>
<clipPath id="c13"><rect x="24" y="167.4" width="67.6" height="64.6"/></clipPath>
<rect x="24" y="167.4" width="67.6" height="64.6" fill="#0b0404"/>
<g clip-path="url(#c13)">
<rect x="89.6" y="187.5" width="1.2" height="1.2" fill="#b01010" opacity="0.27"/><rect x="39.0" y="216.5" width="0.7" height="0.7" fill="#b01010" opacity="0.49"/><rect x="57.5" y="179.5" width="0.7" height="0.7" fill="#b01010" opacity="0.33"/><rect x="69.0" y="228.7" width="0.6" height="0.6" fill="#b01010" opacity="0.32"/><rect x="38.4" y="230.3" width="0.6" height="0.6" fill="#b01010" opacity="0.22"/><rect x="28.1" y="192.8" width="1.2" height="1.2" fill="#b01010" opacity="0.47"/><rect x="73.5" y="230.5" width="1.2" height="1.2" fill="#b01010" opacity="0.30"/><rect x="36.5" y="227.9" width="1.1" height="1.1" fill="#b01010" opacity="0.21"/><rect x="68.9" y="191.9" width="0.8" height="0.8" fill="#b01010" opacity="0.30"/><rect x="35.4" y="167.9" width="0.7" height="0.7" fill="#b01010" opacity="0.31"/><rect x="88.6" y="175.4" width="1.3" height="1.3" fill="#b01010" opacity="0.26"/><rect x="48.1" y="220.5" width="1.2" height="1.2" fill="#b01010" opacity="0.33"/><rect x="27.3" y="198.0" width="0.8" height="0.8" fill="#b01010" opacity="0.48"/><rect x="37.0" y="190.9" width="1.2" height="1.2" fill="#b01010" opacity="0.21"/><rect x="51.8" y="219.8" width="1.1" height="1.1" fill="#b01010" opacity="0.21"/><rect x="26.4" y="171.4" width="1.2" height="1.2" fill="#b01010" opacity="0.28"/><rect x="74.5" y="225.4" width="0.8" height="0.8" fill="#b01010" opacity="0.28"/><rect x="88.7" y="207.3" width="0.7" height="0.7" fill="#b01010" opacity="0.41"/><rect x="45.4" y="185.2" width="0.5" height="0.5" fill="#b01010" opacity="0.43"/><rect x="86.0" y="208.4" width="1.3" height="1.3" fill="#b01010" opacity="0.21"/>
<circle cx="26.3" cy="195.7" r="0.65" fill="#c01818" opacity="0.7"/><circle cx="30.6" cy="199.2" r="0.65" fill="#c01818" opacity="0.7"/><circle cx="36.3" cy="202.4" r="0.65" fill="#c01818" opacity="0.7"/><circle cx="38.4" cy="212" r="0.65" fill="#c01818" opacity="0.7"/><circle cx="39.1" cy="220.6" r="0.65" fill="#c01818" opacity="0.7"/><circle cx="37.7" cy="227" r="0.65" fill="#c01818" opacity="0.7"/><circle cx="69.1" cy="185" r="0.65" fill="#c01818" opacity="0.7"/><circle cx="71.9" cy="187.8" r="0.65" fill="#c01818" opacity="0.7"/><circle cx="76.2" cy="189.3" r="0.65" fill="#c01818" opacity="0.7"/><circle cx="83.3" cy="189.3" r="0.65" fill="#c01818" opacity="0.7"/><circle cx="73.4" cy="173.6" r="0.65" fill="#c01818" opacity="0.7"/><circle cx="26.3" cy="169.3" r="0.65" fill="#c01818" opacity="0.7"/><circle cx="58.4" cy="219.2" r="0.65" fill="#c01818" opacity="0.7"/><circle cx="76.2" cy="207.8" r="0.65" fill="#c01818" opacity="0.7"/><circle cx="54.8" cy="215" r="0.65" fill="#c01818" opacity="0.7"/><circle cx="33" cy="206" r="0.65" fill="#c01818" opacity="0.7"/><circle cx="38" cy="217" r="0.65" fill="#c01818" opacity="0.7"/><circle cx="79" cy="214" r="0.65" fill="#c01818" opacity="0.7"/>
<ellipse cx="59.3" cy="195.1" rx="7.4" ry="6.5" fill="none" stroke="#c01818" stroke-width="1.5" opacity="0.85" transform="rotate(-20 59.3 195.1)" filter="url(#bl)"/>
<ellipse cx="59.3" cy="195.1" rx="7.4" ry="6.5" fill="none" stroke="#ff3030" stroke-width="1.2" opacity="0.9" transform="rotate(-20 59.3 195.1)" filter="url(#spk)"/>
<text x="67.4" y="222.9" font-size="7.95" fill="#e6e6e6">50 µm</text>
<rect x="74.2" y="225.6" width="12.8" height="1.3" fill="#cfcfcf"/>
</g>
<clipPath id="c14"><rect x="94.1" y="167.4" width="67.4" height="64.6"/></clipPath>
<rect x="94.1" y="167.4" width="67.4" height="64.6" fill="#0b0404"/>
<g clip-path="url(#c14)">
<ellipse cx="130.5" cy="195" rx="7.4" ry="6.5" fill="none" stroke="#1a3a1a" stroke-width="0.9" opacity="0.6" transform="rotate(-20 130.5 195)" filter="url(#bl)" stroke-dasharray="1.2 1.4"/>
<text x="137.5" y="222.9" font-size="7.95" fill="#e6e6e6">50 µm</text>
<rect x="144.3" y="225.6" width="12.8" height="1.3" fill="#cfcfcf"/>
</g>
<clipPath id="c15"><rect x="164.1" y="167.4" width="67" height="64.6"/></clipPath>
<rect x="164.1" y="167.4" width="67" height="64.6" fill="#0b0404"/>
<g clip-path="url(#c15)">
<rect x="179.8" y="198.1" width="1.3" height="1.3" fill="#b01010" opacity="0.49"/><rect x="190.0" y="183.6" width="0.8" height="0.8" fill="#b01010" opacity="0.35"/><rect x="226.3" y="179.2" width="1.1" height="1.1" fill="#b01010" opacity="0.42"/><rect x="219.2" y="217.3" width="1.0" height="1.0" fill="#b01010" opacity="0.30"/><rect x="185.5" y="190.8" width="1.1" height="1.1" fill="#b01010" opacity="0.22"/><rect x="177.3" y="216.0" width="0.7" height="0.7" fill="#b01010" opacity="0.22"/><rect x="166.4" y="203.1" width="0.8" height="0.8" fill="#b01010" opacity="0.49"/><rect x="223.3" y="230.5" width="0.7" height="0.7" fill="#b01010" opacity="0.23"/><rect x="170.6" y="199.6" width="1.1" height="1.1" fill="#b01010" opacity="0.33"/><rect x="179.8" y="194.3" width="1.0" height="1.0" fill="#b01010" opacity="0.40"/><rect x="214.2" y="222.1" width="1.0" height="1.0" fill="#b01010" opacity="0.24"/><rect x="220.4" y="186.4" width="1.0" height="1.0" fill="#b01010" opacity="0.31"/><rect x="213.6" y="180.3" width="0.7" height="0.7" fill="#b01010" opacity="0.27"/><rect x="174.4" y="224.5" width="1.0" height="1.0" fill="#b01010" opacity="0.30"/><rect x="190.6" y="230.5" width="0.9" height="0.9" fill="#b01010" opacity="0.27"/><rect x="218.3" y="209.6" width="1.3" height="1.3" fill="#b01010" opacity="0.23"/><rect x="195.9" y="220.3" width="1.2" height="1.2" fill="#b01010" opacity="0.47"/><rect x="166.8" y="186.4" width="0.6" height="0.6" fill="#b01010" opacity="0.26"/><rect x="229.3" y="205.1" width="1.2" height="1.2" fill="#b01010" opacity="0.31"/><rect x="222.1" y="196.4" width="0.7" height="0.7" fill="#b01010" opacity="0.43"/>
<circle cx="166.8" cy="195.7" r="0.65" fill="#c01818" opacity="0.7"/><circle cx="171.1" cy="199.2" r="0.65" fill="#c01818" opacity="0.7"/><circle cx="176.8" cy="202.4" r="0.65" fill="#c01818" opacity="0.7"/><circle cx="178.9" cy="212" r="0.65" fill="#c01818" opacity="0.7"/><circle cx="179.6" cy="220.6" r="0.65" fill="#c01818" opacity="0.7"/><circle cx="178.2" cy="227" r="0.65" fill="#c01818" opacity="0.7"/><circle cx="209.6" cy="185" r="0.65" fill="#c01818" opacity="0.7"/><circle cx="212.4" cy="187.8" r="0.65" fill="#c01818" opacity="0.7"/><circle cx="216.7" cy="189.3" r="0.65" fill="#c01818" opacity="0.7"/><circle cx="223.8" cy="189.3" r="0.65" fill="#c01818" opacity="0.7"/><circle cx="213.9" cy="173.6" r="0.65" fill="#c01818" opacity="0.7"/><circle cx="166.8" cy="169.3" r="0.65" fill="#c01818" opacity="0.7"/><circle cx="198.9" cy="219.2" r="0.65" fill="#c01818" opacity="0.7"/><circle cx="216.7" cy="207.8" r="0.65" fill="#c01818" opacity="0.7"/><circle cx="195.3" cy="215" r="0.65" fill="#c01818" opacity="0.7"/><circle cx="173.5" cy="206" r="0.65" fill="#c01818" opacity="0.7"/><circle cx="178.5" cy="217" r="0.65" fill="#c01818" opacity="0.7"/><circle cx="219.5" cy="214" r="0.65" fill="#c01818" opacity="0.7"/>
<ellipse cx="199.9" cy="195.1" rx="7.4" ry="6.5" fill="none" stroke="#c01818" stroke-width="1.5" opacity="0.85" transform="rotate(-20 199.9 195.1)" filter="url(#bl)"/>
<ellipse cx="199.9" cy="195.1" rx="7.4" ry="6.5" fill="none" stroke="#ff3030" stroke-width="1.2" opacity="0.9" transform="rotate(-20 199.9 195.1)" filter="url(#spk)"/>
<text x="207.5" y="222.9" font-size="7.95" fill="#e6e6e6">50 µm</text>
<rect x="214.3" y="225.6" width="12.8" height="1.3" fill="#cfcfcf"/>
</g>
<clipPath id="c16"><rect x="239.8" y="167.4" width="67.2" height="64.6"/></clipPath>
<rect x="239.8" y="167.4" width="67.2" height="64.6" fill="#0b0404"/>
<g clip-path="url(#c16)">
<g mask="url(#mtop)"><rect x="239.8" y="167.4" width="67.2" height="64.6" fill="#d01818" opacity="0.6" filter="url(#hz)"/></g>
<rect x="303.4" y="174.2" width="1.0" height="1.0" fill="#b01010" opacity="0.55"/><rect x="254.4" y="191.2" width="0.6" height="0.6" fill="#b01010" opacity="0.38"/><rect x="256.9" y="206.1" width="1.0" height="1.0" fill="#b01010" opacity="0.38"/><rect x="240.6" y="188.5" width="1.0" height="1.0" fill="#b01010" opacity="0.37"/><rect x="260.8" y="180.5" width="1.1" height="1.1" fill="#b01010" opacity="0.52"/><rect x="244.1" y="173.9" width="0.8" height="0.8" fill="#b01010" opacity="0.52"/><rect x="282.8" y="173.3" width="0.6" height="0.6" fill="#b01010" opacity="0.58"/><rect x="267.3" y="185.7" width="0.7" height="0.7" fill="#b01010" opacity="0.68"/><rect x="260.8" y="204.0" width="0.8" height="0.8" fill="#b01010" opacity="0.47"/><rect x="297.9" y="230.5" width="0.8" height="0.8" fill="#b01010" opacity="0.38"/><rect x="288.7" y="180.6" width="0.5" height="0.5" fill="#b01010" opacity="0.66"/><rect x="268.3" y="220.4" width="0.8" height="0.8" fill="#b01010" opacity="0.65"/><rect x="270.8" y="177.9" width="0.5" height="0.5" fill="#b01010" opacity="0.52"/><rect x="282.9" y="226.2" width="0.6" height="0.6" fill="#b01010" opacity="0.55"/><rect x="264.7" y="200.0" width="0.6" height="0.6" fill="#b01010" opacity="0.41"/>
<path d="M264.4,168 L267.0,193" fill="none" stroke="#b01010" stroke-width="1.0" opacity="0.7" stroke-linecap="round" filter="url(#bl)"/>
<ellipse cx="281.5" cy="178.1" rx="3" ry="2" fill="none" stroke="#c01818" stroke-width="0.9" opacity="0.8" transform="rotate(0 281.5 178.1)" filter="url(#bl)"/>
<ellipse cx="251.0" cy="171.5" rx="2.5" ry="1.8" fill="none" stroke="#c01818" stroke-width="0.8" opacity="0.7" transform="rotate(0 251.0 171.5)" filter="url(#bl)"/>
<ellipse cx="273.4" cy="202.4" rx="7.6" ry="8.6" fill="none" stroke="#d81818" stroke-width="3.8" opacity="1" transform="rotate(-30 273.4 202.4)" filter="url(#bl)"/>
<ellipse cx="273.4" cy="202.4" rx="7.6" ry="8.6" fill="none" stroke="#ff4040" stroke-width="2.2" opacity="0.8" transform="rotate(-30 273.4 202.4)" filter="url(#spk)"/>
<text x="283.2" y="222.9" font-size="7.95" fill="#e6e6e6">50 µm</text>
<rect x="290.0" y="225.6" width="12.8" height="1.3" fill="#cfcfcf"/>
</g>
<clipPath id="c17"><rect x="309" y="167.4" width="67.3" height="64.6"/></clipPath>
<rect x="309" y="167.4" width="67.3" height="64.6" fill="#0b0404"/>
<g clip-path="url(#c17)">
<path d="M336,196 Q342,192 347,197 Q350,203 347,208" fill="none" stroke="#1a6a1a" stroke-width="1.8" opacity="0.7" stroke-linecap="round" filter="url(#bl)"/>
<circle cx="334" cy="199" r="0.6" fill="#1c601c" opacity="0.8"/><circle cx="333" cy="204" r="0.6" fill="#1c601c" opacity="0.8"/>
<text x="352.4" y="222.9" font-size="7.95" fill="#e6e6e6">50 µm</text>
<rect x="359.2" y="225.6" width="12.8" height="1.3" fill="#cfcfcf"/>
</g>
<clipPath id="c18"><rect x="379.5" y="167.4" width="66.8" height="64.6"/></clipPath>
<rect x="379.5" y="167.4" width="66.8" height="64.6" fill="#0b0404"/>
<g clip-path="url(#c18)">
<g mask="url(#mtop)"><rect x="379.5" y="167.4" width="66.8" height="64.6" fill="#d01818" opacity="0.6" filter="url(#hz)"/></g>
<rect x="414.3" y="227.2" width="0.6" height="0.6" fill="#b01010" opacity="0.50"/><rect x="433.3" y="229.9" width="0.7" height="0.7" fill="#b01010" opacity="0.35"/><rect x="442.5" y="230.4" width="0.9" height="0.9" fill="#b01010" opacity="0.32"/><rect x="441.4" y="192.5" width="1.2" height="1.2" fill="#b01010" opacity="0.55"/><rect x="434.6" y="177.8" width="1.1" height="1.1" fill="#b01010" opacity="0.39"/><rect x="406.5" y="222.1" width="1.2" height="1.2" fill="#b01010" opacity="0.37"/><rect x="394.1" y="193.2" width="0.9" height="0.9" fill="#b01010" opacity="0.45"/><rect x="387.7" y="183.4" width="1.1" height="1.1" fill="#b01010" opacity="0.66"/><rect x="382.2" y="203.7" width="1.1" height="1.1" fill="#b01010" opacity="0.32"/><rect x="435.5" y="175.0" width="1.0" height="1.0" fill="#b01010" opacity="0.52"/><rect x="421.4" y="187.2" width="0.8" height="0.8" fill="#b01010" opacity="0.53"/><rect x="407.9" y="210.0" width="0.9" height="0.9" fill="#b01010" opacity="0.48"/><rect x="381.1" y="207.4" width="0.9" height="0.9" fill="#b01010" opacity="0.39"/><rect x="430.5" y="217.8" width="0.9" height="0.9" fill="#b01010" opacity="0.37"/><rect x="411.1" y="174.3" width="0.6" height="0.6" fill="#b01010" opacity="0.47"/>
<path d="M404.09999999999997,168 L406.7,193" fill="none" stroke="#b01010" stroke-width="1.0" opacity="0.7" stroke-linecap="round" filter="url(#bl)"/>
<ellipse cx="421.2" cy="178.1" rx="3" ry="2" fill="none" stroke="#c01818" stroke-width="0.9" opacity="0.8" transform="rotate(0 421.2 178.1)" filter="url(#bl)"/>
<ellipse cx="390.7" cy="171.5" rx="2.5" ry="1.8" fill="none" stroke="#c01818" stroke-width="0.8" opacity="0.7" transform="rotate(0 390.7 171.5)" filter="url(#bl)"/>
<ellipse cx="413.09999999999997" cy="202.4" rx="7.6" ry="8.6" fill="none" stroke="#d81818" stroke-width="3.8" opacity="1" transform="rotate(-30 413.09999999999997 202.4)" filter="url(#bl)"/>
<ellipse cx="413.09999999999997" cy="202.4" rx="7.6" ry="8.6" fill="none" stroke="#ff4040" stroke-width="2.2" opacity="0.8" transform="rotate(-30 413.09999999999997 202.4)" filter="url(#spk)"/>
<text x="422.9" y="222.9" font-size="7.95" fill="#e6e6e6">50 µm</text>
<rect x="429.7" y="225.6" width="12.8" height="1.3" fill="#cfcfcf"/>
</g>
<text x="2.30" y="260.60" font-size="14" fill="#161616" stroke="#161616" stroke-width="0.15" font-weight="bold" >d</text>
<text x="2.20" y="372.80" font-size="14" fill="#161616" stroke="#161616" stroke-width="0.15" font-weight="bold" >e</text>
<path d="M26.6,268.4 H146.3 V348.4" fill="none" stroke="#555" stroke-width="0.9"/>
<path d="M26.6,268.4 V348.4 H146.3" fill="none" stroke="#2a2a2a" stroke-width="1"/>
<line x1="24.0" y1="348.40" x2="26.6" y2="348.40" stroke="#2a2a2a" stroke-width="1"/>
<text x="22.40" y="352.10" font-size="10.2" text-anchor="end" fill="#161616" stroke="#161616" stroke-width="0.15" >0</text>
<line x1="24.0" y1="328.40" x2="26.6" y2="328.40" stroke="#2a2a2a" stroke-width="1"/>
<text x="22.40" y="332.10" font-size="10.2" text-anchor="end" fill="#161616" stroke="#161616" stroke-width="0.15" >20</text>
<line x1="24.0" y1="308.40" x2="26.6" y2="308.40" stroke="#2a2a2a" stroke-width="1"/>
<text x="22.40" y="312.10" font-size="10.2" text-anchor="end" fill="#161616" stroke="#161616" stroke-width="0.15" >40</text>
<line x1="24.0" y1="288.40" x2="26.6" y2="288.40" stroke="#2a2a2a" stroke-width="1"/>
<text x="22.40" y="292.10" font-size="10.2" text-anchor="end" fill="#161616" stroke="#161616" stroke-width="0.15" >60</text>
<line x1="24.0" y1="268.40" x2="26.6" y2="268.40" stroke="#2a2a2a" stroke-width="1"/>
<text x="22.40" y="272.10" font-size="10.2" text-anchor="end" fill="#161616" stroke="#161616" stroke-width="0.15" >80</text>
<line x1="26.60" y1="348.4" x2="26.60" y2="351.4" stroke="#2a2a2a" stroke-width="1"/>
<text x="26.60" y="361.10" font-size="10.2" text-anchor="middle" fill="#161616" stroke="#161616" stroke-width="0.15" >0</text>
<line x1="56.53" y1="348.4" x2="56.53" y2="351.4" stroke="#2a2a2a" stroke-width="1"/>
<text x="56.53" y="361.10" font-size="10.2" text-anchor="middle" fill="#161616" stroke="#161616" stroke-width="0.15" >50</text>
<line x1="86.45" y1="348.4" x2="86.45" y2="351.4" stroke="#2a2a2a" stroke-width="1"/>
<text x="86.45" y="361.10" font-size="10.2" text-anchor="middle" fill="#161616" stroke="#161616" stroke-width="0.15" >100</text>
<line x1="116.38" y1="348.4" x2="116.38" y2="351.4" stroke="#2a2a2a" stroke-width="1"/>
<text x="116.38" y="361.10" font-size="10.2" text-anchor="middle" fill="#161616" stroke="#161616" stroke-width="0.15" >150</text>
<line x1="146.30" y1="348.4" x2="146.30" y2="351.4" stroke="#2a2a2a" stroke-width="1"/>
<text x="146.30" y="361.10" font-size="10.2" text-anchor="middle" fill="#161616" stroke="#161616" stroke-width="0.15" >200</text>
<text x="84.60" y="370.80" font-size="10.6" text-anchor="middle" fill="#161616" stroke="#161616" stroke-width="0.15" >time (s)</text>
<text x="9.00" y="307.40" font-size="10.45" text-anchor="middle" fill="#161616" stroke="#161616" stroke-width="0.15" transform="rotate(-90 9.00 307.40)">ICP (mmHg)</text>
<polyline points="27.5,347.6 31.8,347.4 35.3,347.2 36.7,344.8 39.1,341.5 40.6,337.6 42.0,330.7 43.2,318.9 44.6,302.8 46.5,300.9 49.1,299.3 51.0,296.3 53.4,292.4 55.4,292.0 59.3,292.6 66.2,292.6 68.1,294.4 71.5,298.3 74.0,303.2 77.0,311.1 78.9,317.0 80.9,322.5 83.3,324.8 85.8,325.2 87.8,324.4 89.7,325.8 91.7,326.4 94.7,327.2 98.6,328.4 104.5,329.7 112.3,331.1 122.2,332.1 130.0,332.7 137.9,332.3" fill="none" stroke="#111" stroke-width="1.25" stroke-linejoin="round" stroke-linecap="round"/>
<text x="27.90" y="279.10" font-size="10.5" fill="#161616" stroke="#161616" stroke-width="0.15" >start</text>
<path d="M34.80,281.20 h3 v3.2 h2.1 L36.30,288.80 L32.70,284.40 h2.1 z" fill="#000"/>
<text x="58.70" y="279.10" font-size="10.5" fill="#1E9DE3" stroke="#1E9DE3" stroke-width="0.15" >stop</text>
<path d="M65.80,281.20 h3 v3.2 h2.1 L67.30,288.80 L63.70,284.40 h2.1 z" fill="#1E9DE3"/>
<path d="M175.1,268.4 H294.8 V348.4" fill="none" stroke="#555" stroke-width="0.9"/>
<path d="M175.1,268.4 V348.4 H294.8" fill="none" stroke="#2a2a2a" stroke-width="1"/>
<line x1="172.5" y1="348.40" x2="175.1" y2="348.40" stroke="#2a2a2a" stroke-width="1"/>
<text x="170.90" y="352.10" font-size="10.2" text-anchor="end" fill="#161616" stroke="#161616" stroke-width="0.15" >0</text>
<line x1="172.5" y1="328.40" x2="175.1" y2="328.40" stroke="#2a2a2a" stroke-width="1"/>
<text x="170.90" y="332.10" font-size="10.2" text-anchor="end" fill="#161616" stroke="#161616" stroke-width="0.15" >20</text>
<line x1="172.5" y1="308.40" x2="175.1" y2="308.40" stroke="#2a2a2a" stroke-width="1"/>
<text x="170.90" y="312.10" font-size="10.2" text-anchor="end" fill="#161616" stroke="#161616" stroke-width="0.15" >40</text>
<line x1="172.5" y1="288.40" x2="175.1" y2="288.40" stroke="#2a2a2a" stroke-width="1"/>
<text x="170.90" y="292.10" font-size="10.2" text-anchor="end" fill="#161616" stroke="#161616" stroke-width="0.15" >60</text>
<line x1="172.5" y1="268.40" x2="175.1" y2="268.40" stroke="#2a2a2a" stroke-width="1"/>
<text x="170.90" y="272.10" font-size="10.2" text-anchor="end" fill="#161616" stroke="#161616" stroke-width="0.15" >80</text>
<line x1="175.10" y1="348.4" x2="175.10" y2="351.4" stroke="#2a2a2a" stroke-width="1"/>
<text x="175.10" y="361.10" font-size="10.2" text-anchor="middle" fill="#161616" stroke="#161616" stroke-width="0.15" >0</text>
<line x1="205.03" y1="348.4" x2="205.03" y2="351.4" stroke="#2a2a2a" stroke-width="1"/>
<text x="205.03" y="361.10" font-size="10.2" text-anchor="middle" fill="#161616" stroke="#161616" stroke-width="0.15" >50</text>
<line x1="234.95" y1="348.4" x2="234.95" y2="351.4" stroke="#2a2a2a" stroke-width="1"/>
<text x="234.95" y="361.10" font-size="10.2" text-anchor="middle" fill="#161616" stroke="#161616" stroke-width="0.15" >100</text>
<line x1="264.88" y1="348.4" x2="264.88" y2="351.4" stroke="#2a2a2a" stroke-width="1"/>
<text x="264.88" y="361.10" font-size="10.2" text-anchor="middle" fill="#161616" stroke="#161616" stroke-width="0.15" >150</text>
<line x1="294.80" y1="348.4" x2="294.80" y2="351.4" stroke="#2a2a2a" stroke-width="1"/>
<text x="294.80" y="361.10" font-size="10.2" text-anchor="middle" fill="#161616" stroke="#161616" stroke-width="0.15" >200</text>
<text x="233.10" y="370.80" font-size="10.6" text-anchor="middle" fill="#161616" stroke="#161616" stroke-width="0.15" >time (s)</text>
<text x="157.50" y="307.40" font-size="10.45" text-anchor="middle" fill="#161616" stroke="#161616" stroke-width="0.15" transform="rotate(-90 157.50 307.40)">ICP (mmHg)</text>
<polyline points="182.1,347.0 187.6,346.8 193.5,346.6 195.5,346.1 197.1,342.5 198.5,334.7 199.8,324.8 201.4,318.0 203.4,316.6 205.3,315.0 207.3,311.5 209.3,308.7 211.2,309.1 213.2,307.2 216.1,303.2 219.5,299.3 222.0,299.9 225.0,300.7 227.9,302.2 230.9,306.2 233.8,311.1 236.8,316.0 240.3,321.3 243.6,323.9 247.6,325.8 251.5,326.8 255.4,327.4 258.4,328.4 262.3,329.9 266.2,331.5 270.2,333.1 275.1,334.7 281.0,335.8 286.9,337.0" fill="none" stroke="#111" stroke-width="1.25" stroke-linejoin="round" stroke-linecap="round"/>
<text x="183.10" y="284.50" font-size="10.5" fill="#161616" stroke="#161616" stroke-width="0.15" >start</text>
<path d="M190.10,286.30 h3 v3.2 h2.1 L191.60,293.90 L188.00,289.50 h2.1 z" fill="#000"/>
<text x="213.70" y="284.50" font-size="10.5" fill="#1E9DE3" stroke="#1E9DE3" stroke-width="0.15" >stop</text>
<path d="M221.00,286.30 h3 v3.2 h2.1 L222.50,293.90 L218.90,289.50 h2.1 z" fill="#1E9DE3"/>
<path d="M325.9,268.4 H445.59999999999997 V348.4" fill="none" stroke="#555" stroke-width="0.9"/>
<path d="M325.9,268.4 V348.4 H445.59999999999997" fill="none" stroke="#2a2a2a" stroke-width="1"/>
<line x1="323.29999999999995" y1="348.40" x2="325.9" y2="348.40" stroke="#2a2a2a" stroke-width="1"/>
<text x="321.70" y="352.10" font-size="10.2" text-anchor="end" fill="#161616" stroke="#161616" stroke-width="0.15" >0</text>
<line x1="323.29999999999995" y1="328.40" x2="325.9" y2="328.40" stroke="#2a2a2a" stroke-width="1"/>
<text x="321.70" y="332.10" font-size="10.2" text-anchor="end" fill="#161616" stroke="#161616" stroke-width="0.15" >20</text>
<line x1="323.29999999999995" y1="308.40" x2="325.9" y2="308.40" stroke="#2a2a2a" stroke-width="1"/>
<text x="321.70" y="312.10" font-size="10.2" text-anchor="end" fill="#161616" stroke="#161616" stroke-width="0.15" >40</text>
<line x1="323.29999999999995" y1="288.40" x2="325.9" y2="288.40" stroke="#2a2a2a" stroke-width="1"/>
<text x="321.70" y="292.10" font-size="10.2" text-anchor="end" fill="#161616" stroke="#161616" stroke-width="0.15" >60</text>
<line x1="323.29999999999995" y1="268.40" x2="325.9" y2="268.40" stroke="#2a2a2a" stroke-width="1"/>
<text x="321.70" y="272.10" font-size="10.2" text-anchor="end" fill="#161616" stroke="#161616" stroke-width="0.15" >80</text>
<line x1="325.90" y1="348.4" x2="325.90" y2="351.4" stroke="#2a2a2a" stroke-width="1"/>
<text x="325.90" y="361.10" font-size="10.2" text-anchor="middle" fill="#161616" stroke="#161616" stroke-width="0.15" >0</text>
<line x1="355.82" y1="348.4" x2="355.82" y2="351.4" stroke="#2a2a2a" stroke-width="1"/>
<text x="355.82" y="361.10" font-size="10.2" text-anchor="middle" fill="#161616" stroke="#161616" stroke-width="0.15" >50</text>
<line x1="385.75" y1="348.4" x2="385.75" y2="351.4" stroke="#2a2a2a" stroke-width="1"/>
<text x="385.75" y="361.10" font-size="10.2" text-anchor="middle" fill="#161616" stroke="#161616" stroke-width="0.15" >100</text>
<line x1="415.67" y1="348.4" x2="415.67" y2="351.4" stroke="#2a2a2a" stroke-width="1"/>
<text x="415.67" y="361.10" font-size="10.2" text-anchor="middle" fill="#161616" stroke="#161616" stroke-width="0.15" >150</text>
<line x1="445.60" y1="348.4" x2="445.60" y2="351.4" stroke="#2a2a2a" stroke-width="1"/>
<text x="445.60" y="361.10" font-size="10.2" text-anchor="middle" fill="#161616" stroke="#161616" stroke-width="0.15" >200</text>
<text x="383.90" y="370.80" font-size="10.6" text-anchor="middle" fill="#161616" stroke="#161616" stroke-width="0.15" >time (s)</text>
<text x="308.30" y="307.40" font-size="10.45" text-anchor="middle" fill="#161616" stroke="#161616" stroke-width="0.15" transform="rotate(-90 308.30 307.40)">ICP (mmHg)</text>
<polyline points="336.7,344.9 342.6,345.3 346.5,345.1 350.4,343.7 354.3,341.5 357.3,338.6 361.2,336.6 366.1,335.8 371.0,335.0 375.0,334.7 377.9,334.5 379.9,335.0 381.9,337.6 384.8,341.5 387.7,344.9 388.7,345.5 425.7,345.5" fill="none" stroke="#111" stroke-width="1.25" stroke-linejoin="round" stroke-linecap="round"/>
<text x="336.70" y="318.90" font-size="10.5" fill="#161616" stroke="#161616" stroke-width="0.15" >start</text>
<path d="M343.30,321.30 h3 v3.2 h2.1 L344.80,328.90 L341.20,324.50 h2.1 z" fill="#000"/>
<text x="366.70" y="318.90" font-size="10.5" fill="#1E9DE3" stroke="#1E9DE3" stroke-width="0.15" >stop</text>
<path d="M374.00,321.30 h3 v3.2 h2.1 L375.50,328.90 L371.90,324.50 h2.1 z" fill="#1E9DE3"/>
<path d="M26.8,377.7 H146.5 V457.29999999999995" fill="none" stroke="#555" stroke-width="0.9"/>
<path d="M26.8,377.7 V457.29999999999995 H146.5" fill="none" stroke="#2a2a2a" stroke-width="1"/>
<line x1="24.2" y1="457.30" x2="26.8" y2="457.30" stroke="#2a2a2a" stroke-width="1"/>
<text x="22.60" y="461.00" font-size="10.2" text-anchor="end" fill="#161616" stroke="#161616" stroke-width="0.15" >0</text>
<line x1="24.2" y1="437.40" x2="26.8" y2="437.40" stroke="#2a2a2a" stroke-width="1"/>
<text x="22.60" y="441.10" font-size="10.2" text-anchor="end" fill="#161616" stroke="#161616" stroke-width="0.15" >20</text>
<line x1="24.2" y1="417.50" x2="26.8" y2="417.50" stroke="#2a2a2a" stroke-width="1"/>
<text x="22.60" y="421.20" font-size="10.2" text-anchor="end" fill="#161616" stroke="#161616" stroke-width="0.15" >40</text>
<line x1="24.2" y1="397.60" x2="26.8" y2="397.60" stroke="#2a2a2a" stroke-width="1"/>
<text x="22.60" y="401.30" font-size="10.2" text-anchor="end" fill="#161616" stroke="#161616" stroke-width="0.15" >60</text>
<line x1="24.2" y1="377.70" x2="26.8" y2="377.70" stroke="#2a2a2a" stroke-width="1"/>
<text x="22.60" y="381.40" font-size="10.2" text-anchor="end" fill="#161616" stroke="#161616" stroke-width="0.15" >80</text>
<line x1="26.80" y1="457.29999999999995" x2="26.80" y2="460.29999999999995" stroke="#2a2a2a" stroke-width="1"/>
<text x="26.80" y="470.00" font-size="10.2" text-anchor="middle" fill="#161616" stroke="#161616" stroke-width="0.15" >0</text>
<line x1="56.73" y1="457.29999999999995" x2="56.73" y2="460.29999999999995" stroke="#2a2a2a" stroke-width="1"/>
<text x="56.73" y="470.00" font-size="10.2" text-anchor="middle" fill="#161616" stroke="#161616" stroke-width="0.15" >50</text>
<line x1="86.65" y1="457.29999999999995" x2="86.65" y2="460.29999999999995" stroke="#2a2a2a" stroke-width="1"/>
<text x="86.65" y="470.00" font-size="10.2" text-anchor="middle" fill="#161616" stroke="#161616" stroke-width="0.15" >100</text>
<line x1="116.58" y1="457.29999999999995" x2="116.58" y2="460.29999999999995" stroke="#2a2a2a" stroke-width="1"/>
<text x="116.58" y="470.00" font-size="10.2" text-anchor="middle" fill="#161616" stroke="#161616" stroke-width="0.15" >150</text>
<line x1="146.50" y1="457.29999999999995" x2="146.50" y2="460.29999999999995" stroke="#2a2a2a" stroke-width="1"/>
<text x="146.50" y="470.00" font-size="10.2" text-anchor="middle" fill="#161616" stroke="#161616" stroke-width="0.15" >200</text>
<text x="84.80" y="479.70" font-size="10.6" text-anchor="middle" fill="#161616" stroke="#161616" stroke-width="0.15" >time (s)</text>
<text x="9.20" y="412.60" font-size="10.45" text-anchor="middle" fill="#161616" stroke="#161616" stroke-width="0.15" transform="rotate(-90 9.20 412.60)">ICP (mmHg)</text>
<polyline points="31.4,455.5 34.7,455.3 37.7,452.5 41.2,447.6 42.6,444.7 43.6,434.8 44.6,423.0 45.5,409.3 46.9,399.5 48.5,397.1 52.4,396.7 59.3,395.9 67.2,396.1 75.0,396.3 80.9,396.9 83.9,397.9 85.8,401.4 87.8,408.3 90.7,418.1 93.7,427.0 96.6,433.9 99.6,438.8 103.5,442.3 108.4,444.3 114.3,445.4 122.2,446.2 133.0,446.4" fill="none" stroke="#111" stroke-width="1.25" stroke-linejoin="round" stroke-linecap="round"/>
<text x="27.90" y="385.70" font-size="10.5" fill="#161616" stroke="#161616" stroke-width="0.15" >start</text>
<path d="M35.00,388.00 h3 v3.2 h2.1 L36.50,395.60 L32.90,391.20 h2.1 z" fill="#000"/>
<text x="58.70" y="385.70" font-size="10.5" fill="#1E9DE3" stroke="#1E9DE3" stroke-width="0.15" >stop</text>
<path d="M65.90,388.00 h3 v3.2 h2.1 L67.40,395.60 L63.80,391.20 h2.1 z" fill="#1E9DE3"/>
<path d="M175.3,377.7 H295.0 V457.29999999999995" fill="none" stroke="#555" stroke-width="0.9"/>
<path d="M175.3,377.7 V457.29999999999995 H295.0" fill="none" stroke="#2a2a2a" stroke-width="1"/>
<line x1="172.70000000000002" y1="457.40" x2="175.3" y2="457.40" stroke="#2a2a2a" stroke-width="1"/>
<text x="171.10" y="461.10" font-size="10.2" text-anchor="end" fill="#161616" stroke="#161616" stroke-width="0.15" >0</text>
<line x1="172.70000000000002" y1="440.50" x2="175.3" y2="440.50" stroke="#2a2a2a" stroke-width="1"/>
<text x="171.10" y="444.20" font-size="10.2" text-anchor="end" fill="#161616" stroke="#161616" stroke-width="0.15" >20</text>
<line x1="172.70000000000002" y1="420.80" x2="175.3" y2="420.80" stroke="#2a2a2a" stroke-width="1"/>
<text x="171.10" y="424.50" font-size="10.2" text-anchor="end" fill="#161616" stroke="#161616" stroke-width="0.15" >40</text>
<line x1="172.70000000000002" y1="400.90" x2="175.3" y2="400.90" stroke="#2a2a2a" stroke-width="1"/>
<text x="171.10" y="404.60" font-size="10.2" text-anchor="end" fill="#161616" stroke="#161616" stroke-width="0.15" >60</text>
<line x1="172.70000000000002" y1="378.30" x2="175.3" y2="378.30" stroke="#2a2a2a" stroke-width="1"/>
<text x="171.10" y="382.00" font-size="10.2" text-anchor="end" fill="#161616" stroke="#161616" stroke-width="0.15" >80</text>
<line x1="175.30" y1="457.29999999999995" x2="175.30" y2="460.29999999999995" stroke="#2a2a2a" stroke-width="1"/>
<text x="175.30" y="470.00" font-size="10.2" text-anchor="middle" fill="#161616" stroke="#161616" stroke-width="0.15" >0</text>
<line x1="205.23" y1="457.29999999999995" x2="205.23" y2="460.29999999999995" stroke="#2a2a2a" stroke-width="1"/>
<text x="205.23" y="470.00" font-size="10.2" text-anchor="middle" fill="#161616" stroke="#161616" stroke-width="0.15" >50</text>
<line x1="235.15" y1="457.29999999999995" x2="235.15" y2="460.29999999999995" stroke="#2a2a2a" stroke-width="1"/>
<text x="235.15" y="470.00" font-size="10.2" text-anchor="middle" fill="#161616" stroke="#161616" stroke-width="0.15" >100</text>
<line x1="265.08" y1="457.29999999999995" x2="265.08" y2="460.29999999999995" stroke="#2a2a2a" stroke-width="1"/>
<text x="265.08" y="470.00" font-size="10.2" text-anchor="middle" fill="#161616" stroke="#161616" stroke-width="0.15" >150</text>
<line x1="295.00" y1="457.29999999999995" x2="295.00" y2="460.29999999999995" stroke="#2a2a2a" stroke-width="1"/>
<text x="295.00" y="470.00" font-size="10.2" text-anchor="middle" fill="#161616" stroke="#161616" stroke-width="0.15" >200</text>
<text x="233.30" y="479.70" font-size="10.6" text-anchor="middle" fill="#161616" stroke="#161616" stroke-width="0.15" >time (s)</text>
<text x="157.70" y="412.60" font-size="10.45" text-anchor="middle" fill="#161616" stroke="#161616" stroke-width="0.15" transform="rotate(-90 157.70 412.60)">ICP (mmHg)</text>
<polyline points="183.3,452.5 187.6,452.3 191.6,451.7 195.5,450.7 197.9,449.6 199.4,446.6 201.0,440.7 202.4,432.9 203.8,423.0 205.3,413.2 207.3,406.3 209.7,403.8 213.2,404.0 219.1,404.2 225.0,404.4 230.9,404.4 233.8,405.0 235.8,406.9 237.7,411.3 239.7,418.1 241.7,425.0 244.6,431.9 247.6,435.8 251.5,438.8 256.4,440.7 262.3,441.9 267.2,442.5 271.7,443.1" fill="none" stroke="#111" stroke-width="1.25" stroke-linejoin="round" stroke-linecap="round"/>
<text x="177.40" y="389.60" font-size="10.5" fill="#161616" stroke="#161616" stroke-width="0.15" >start</text>
<path d="M187.00,392.60 h3 v3.2 h2.1 L188.50,400.20 L184.90,395.80 h2.1 z" fill="#000"/>
<text x="210.20" y="389.60" font-size="10.5" fill="#1E9DE3" stroke="#1E9DE3" stroke-width="0.15" >stop</text>
<path d="M217.90,392.60 h3 v3.2 h2.1 L219.40,400.20 L215.80,395.80 h2.1 z" fill="#1E9DE3"/>
<path d="M325.9,377.7 H445.59999999999997 V457.29999999999995" fill="none" stroke="#555" stroke-width="0.9"/>
<path d="M325.9,377.7 V457.29999999999995 H445.59999999999997" fill="none" stroke="#2a2a2a" stroke-width="1"/>
<line x1="323.29999999999995" y1="457.30" x2="325.9" y2="457.30" stroke="#2a2a2a" stroke-width="1"/>
<text x="321.70" y="461.00" font-size="10.2" text-anchor="end" fill="#161616" stroke="#161616" stroke-width="0.15" >0</text>
<line x1="323.29999999999995" y1="437.40" x2="325.9" y2="437.40" stroke="#2a2a2a" stroke-width="1"/>
<text x="321.70" y="441.10" font-size="10.2" text-anchor="end" fill="#161616" stroke="#161616" stroke-width="0.15" >20</text>
<line x1="323.29999999999995" y1="417.50" x2="325.9" y2="417.50" stroke="#2a2a2a" stroke-width="1"/>
<text x="321.70" y="421.20" font-size="10.2" text-anchor="end" fill="#161616" stroke="#161616" stroke-width="0.15" >40</text>
<line x1="323.29999999999995" y1="397.60" x2="325.9" y2="397.60" stroke="#2a2a2a" stroke-width="1"/>
<text x="321.70" y="401.30" font-size="10.2" text-anchor="end" fill="#161616" stroke="#161616" stroke-width="0.15" >60</text>
<line x1="323.29999999999995" y1="377.70" x2="325.9" y2="377.70" stroke="#2a2a2a" stroke-width="1"/>
<text x="321.70" y="381.40" font-size="10.2" text-anchor="end" fill="#161616" stroke="#161616" stroke-width="0.15" >80</text>
<line x1="325.90" y1="457.29999999999995" x2="325.90" y2="460.29999999999995" stroke="#2a2a2a" stroke-width="1"/>
<text x="325.90" y="470.00" font-size="10.2" text-anchor="middle" fill="#161616" stroke="#161616" stroke-width="0.15" >0</text>
<line x1="355.82" y1="457.29999999999995" x2="355.82" y2="460.29999999999995" stroke="#2a2a2a" stroke-width="1"/>
<text x="355.82" y="470.00" font-size="10.2" text-anchor="middle" fill="#161616" stroke="#161616" stroke-width="0.15" >50</text>
<line x1="385.75" y1="457.29999999999995" x2="385.75" y2="460.29999999999995" stroke="#2a2a2a" stroke-width="1"/>
<text x="385.75" y="470.00" font-size="10.2" text-anchor="middle" fill="#161616" stroke="#161616" stroke-width="0.15" >100</text>
<line x1="415.67" y1="457.29999999999995" x2="415.67" y2="460.29999999999995" stroke="#2a2a2a" stroke-width="1"/>
<text x="415.67" y="470.00" font-size="10.2" text-anchor="middle" fill="#161616" stroke="#161616" stroke-width="0.15" >150</text>
<line x1="445.60" y1="457.29999999999995" x2="445.60" y2="460.29999999999995" stroke="#2a2a2a" stroke-width="1"/>
<text x="445.60" y="470.00" font-size="10.2" text-anchor="middle" fill="#161616" stroke="#161616" stroke-width="0.15" >200</text>
<text x="383.90" y="479.70" font-size="10.6" text-anchor="middle" fill="#161616" stroke="#161616" stroke-width="0.15" >time (s)</text>
<text x="308.30" y="412.60" font-size="10.45" text-anchor="middle" fill="#161616" stroke="#161616" stroke-width="0.15" transform="rotate(-90 308.30 412.60)">ICP (mmHg)</text>
<polyline points="337.6,445.6 343.5,444.3 349.4,443.7 355.3,443.1 359.3,442.3 363.2,439.2 368.1,435.4 372.0,432.9 376.0,431.9 380.9,431.7 384.8,432.1 388.7,433.3 393.6,434.4 398.6,435.4 404.4,436.2 410.3,436.8 416.2,437.2 422.1,437.6 427.0,437.8" fill="none" stroke="#111" stroke-width="1.25" stroke-linejoin="round" stroke-linecap="round"/>
<text x="336.70" y="412.80" font-size="10.5" fill="#161616" stroke="#161616" stroke-width="0.15" >start</text>
<path d="M347.50,415.60 h3 v3.2 h2.1 L349.00,423.20 L345.40,418.80 h2.1 z" fill="#000"/>
<text x="367.10" y="412.80" font-size="10.5" fill="#1E9DE3" stroke="#1E9DE3" stroke-width="0.15" >stop</text>
<path d="M378.30,415.60 h3 v3.2 h2.1 L379.80,423.20 L376.20,418.80 h2.1 z" fill="#1E9DE3"/>
<text x="64.00" y="261.40" font-size="10.4" font-style="italic" fill="#161616" stroke="#161616" stroke-width="0.15">Mypt1<tspan font-size="7.8" dx="0.6" dy="-5.8">+/+</tspan></text>
<text x="208.20" y="261.40" font-size="10.4" font-style="italic" fill="#161616" stroke="#161616" stroke-width="0.15">Mypt1<tspan font-size="7.8" dx="0.6" dy="-5.8">+/ΔSM</tspan></text>
<text x="357.50" y="261.20" font-size="10.4" font-style="italic" fill="#161616" stroke="#161616" stroke-width="0.15">Mypt1<tspan font-size="7.8" dx="0.6" dy="-5.8">ΔSM/ΔSM</tspan></text>
<text x="452.90" y="12.80" font-size="14" fill="#161616" stroke="#161616" stroke-width="0.15" font-weight="bold" >b</text>
<rect x="486.5" y="46.56" width="11.90" height="57.64" fill="#C08F50" stroke="#2a2a2a" stroke-width="0.8"/>
<rect x="504.0" y="54.73" width="11.60" height="49.47" fill="#E5141C" stroke="#2a2a2a" stroke-width="0.8"/>
<rect x="521.0" y="73.39" width="11.60" height="30.81" fill="#0B3196" stroke="#2a2a2a" stroke-width="0.8"/>
<rect x="555.3" y="44.33" width="11.30" height="59.87" fill="#C08F50" stroke="#2a2a2a" stroke-width="0.8"/>
<rect x="572.3" y="46.56" width="11.70" height="57.64" fill="#E5141C" stroke="#2a2a2a" stroke-width="0.8"/>
<rect x="589.6" y="65.21" width="11.50" height="38.99" fill="#0B3196" stroke="#2a2a2a" stroke-width="0.8"/>
<path d="M492.45,45.36 V47.75 M489.95,45.36 h5 M489.95,47.75 h5" stroke="#111" stroke-width="0.8" fill="none"/>
<circle cx="490.75" cy="43.62" r="1.55" fill="#0a0a0a"/>
<circle cx="495.85" cy="44.97" r="1.55" fill="#0a0a0a"/>
<circle cx="490.45" cy="49.41" r="1.55" fill="#0a0a0a"/>
<circle cx="493.85" cy="48.38" r="1.55" fill="#0a0a0a"/>
<path d="M509.80,53.94 V55.53 M507.30,53.94 h5 M507.30,55.53 h5" stroke="#111" stroke-width="0.8" fill="none"/>
<circle cx="507.80" cy="52.51" r="1.55" fill="#0a0a0a"/>
<circle cx="513.20" cy="53.62" r="1.55" fill="#0a0a0a"/>
<circle cx="507.60" cy="57.35" r="1.55" fill="#0a0a0a"/>
<circle cx="510.90" cy="54.81" r="1.55" fill="#0a0a0a"/>
<path d="M526.80,72.44 V74.35 M524.30,72.44 h5 M524.30,74.35 h5" stroke="#111" stroke-width="0.8" fill="none"/>
<circle cx="526.80" cy="70.85" r="1.55" fill="#0a0a0a"/>
<circle cx="522.80" cy="72.44" r="1.55" fill="#0a0a0a"/>
<circle cx="530.60" cy="74.50" r="1.55" fill="#0a0a0a"/>
<circle cx="526.80" cy="74.74" r="1.55" fill="#0a0a0a"/>
<path d="M560.95,42.74 V45.92 M558.45,42.74 h5 M558.45,45.92 h5" stroke="#111" stroke-width="0.8" fill="none"/>
<circle cx="559.25" cy="42.90" r="1.55" fill="#0a0a0a"/>
<circle cx="562.35" cy="42.90" r="1.55" fill="#0a0a0a"/>
<circle cx="561.15" cy="47.83" r="1.55" fill="#0a0a0a"/>
<path d="M578.15,42.59 V50.53 M575.65,42.59 h5 M575.65,50.53 h5" stroke="#111" stroke-width="0.8" fill="none"/>
<circle cx="578.35" cy="40.92" r="1.55" fill="#0a0a0a"/>
<circle cx="578.15" cy="44.49" r="1.55" fill="#0a0a0a"/>
<circle cx="577.85" cy="54.34" r="1.55" fill="#0a0a0a"/>
<path d="M595.35,64.18 V66.25 M592.85,64.18 h5 M592.85,66.25 h5" stroke="#111" stroke-width="0.8" fill="none"/>
<circle cx="591.85" cy="64.58" r="1.55" fill="#0a0a0a"/>
<circle cx="595.45" cy="63.63" r="1.55" fill="#0a0a0a"/>
<circle cx="599.05" cy="66.41" r="1.55" fill="#0a0a0a"/>
<circle cx="595.35" cy="68.31" r="1.55" fill="#0a0a0a"/>
<path d="M484.0,24.8 V104.2" fill="none" stroke="#aaa" stroke-width="1.3"/>
<path d="M483.4,104.2 H604.2" fill="none" stroke="#222" stroke-width="1"/>
<line x1="481.2" y1="104.20" x2="484.0" y2="104.20" stroke="#444" stroke-width="1"/>
<text x="480.80" y="107.90" font-size="10.2" text-anchor="end" fill="#161616" stroke="#161616" stroke-width="0.15" >0</text>
<line x1="481.2" y1="88.32" x2="484.0" y2="88.32" stroke="#444" stroke-width="1"/>
<text x="480.80" y="92.02" font-size="10.2" text-anchor="end" fill="#161616" stroke="#161616" stroke-width="0.15" >20</text>
<line x1="481.2" y1="72.44" x2="484.0" y2="72.44" stroke="#444" stroke-width="1"/>
<text x="480.80" y="76.14" font-size="10.2" text-anchor="end" fill="#161616" stroke="#161616" stroke-width="0.15" >40</text>
<line x1="481.2" y1="56.56" x2="484.0" y2="56.56" stroke="#444" stroke-width="1"/>
<text x="480.80" y="60.26" font-size="10.2" text-anchor="end" fill="#161616" stroke="#161616" stroke-width="0.15" >60</text>
<line x1="481.2" y1="40.68" x2="484.0" y2="40.68" stroke="#444" stroke-width="1"/>
<text x="480.80" y="44.38" font-size="10.2" text-anchor="end" fill="#161616" stroke="#161616" stroke-width="0.15" >80</text>
<line x1="481.2" y1="24.80" x2="484.0" y2="24.80" stroke="#444" stroke-width="1"/>
<text x="480.80" y="28.50" font-size="10.2" text-anchor="end" fill="#161616" stroke="#161616" stroke-width="0.15" >100</text>
<line x1="492.45" y1="104.2" x2="492.45" y2="107.2" stroke="#444" stroke-width="0.9"/>
<line x1="509.80" y1="104.2" x2="509.80" y2="107.2" stroke="#444" stroke-width="0.9"/>
<line x1="526.80" y1="104.2" x2="526.80" y2="107.2" stroke="#444" stroke-width="0.9"/>
<line x1="560.95" y1="104.2" x2="560.95" y2="107.2" stroke="#444" stroke-width="0.9"/>
<line x1="578.15" y1="104.2" x2="578.15" y2="107.2" stroke="#444" stroke-width="0.9"/>
<line x1="595.35" y1="104.2" x2="595.35" y2="107.2" stroke="#444" stroke-width="0.9"/>
<text x="512.20" y="114.90" font-size="10.4" text-anchor="middle" fill="#161616" stroke="#161616" stroke-width="0.15" >non-Lot1</text>
<text x="580.90" y="114.90" font-size="10.4" text-anchor="middle" fill="#161616" stroke="#161616" stroke-width="0.15" >Lot1</text>
<text x="460.3" y="65.8" font-size="10.5" text-anchor="middle" fill="#161616" stroke="#161616" stroke-width="0.15" transform="rotate(-90 460.3 65.8)">diameter (µm)</text>
<path d="M508.4,24.4 H578.7 M508.4,20.4 V28.4 M578.7,20.4 V28.4" stroke="#555" stroke-width="0.9" fill="none"/>
<text x="543.50" y="19.70" font-size="10.7" text-anchor="middle" fill="#161616" stroke="#161616" stroke-width="0.15" >p=0.07</text>
<path d="M526.6,36.2 H595.3 M526.6,31.800000000000004 V40.6 M595.3,31.800000000000004 V40.6" stroke="#555" stroke-width="0.9" fill="none"/>
<text x="561.00" y="37.60" font-size="10.2" text-anchor="middle" fill="#161616" stroke="#161616" stroke-width="0.15" >**</text>
<rect x="599.6" y="8.90" width="15.4" height="7.6" fill="#C08F50" stroke="#2a2a2a" stroke-width="0.8"/>
<text x="617.40" y="16.30" font-size="10.8" font-style="italic" fill="#161616" stroke="#161616" stroke-width="0.15">Mypt1<tspan font-size="8.0" dx="0" dy="-8.9">+/+</tspan></text>
<rect x="599.6" y="25.60" width="15.4" height="7.6" fill="#E5141C" stroke="#2a2a2a" stroke-width="0.8"/>
<text x="617.40" y="33.00" font-size="10.8" font-style="italic" fill="#161616" stroke="#161616" stroke-width="0.15">Mypt1<tspan font-size="8.0" dx="0.4" dy="-6.1">+/ΔSM</tspan></text>
<rect x="599.6" y="42.20" width="15.4" height="7.6" fill="#0B3196" stroke="#2a2a2a" stroke-width="0.8"/>
<text x="617.40" y="49.60" font-size="10.8" font-style="italic" fill="#161616" stroke="#161616" stroke-width="0.15">Mypt1<tspan font-size="8.0" dx="0.4" dy="-6.1">ΔSM/ΔSM</tspan></text>
<text x="453.30" y="132.70" font-size="14" fill="#161616" stroke="#161616" stroke-width="0.15" font-weight="bold" >c</text>
<rect x="486.5" y="174.94" width="11.90" height="46.06" fill="#C08F50" stroke="#2a2a2a" stroke-width="0.8"/>
<rect x="504.0" y="170.94" width="11.60" height="50.06" fill="#E5141C" stroke="#2a2a2a" stroke-width="0.8"/>
<rect x="521.0" y="175.21" width="11.60" height="45.79" fill="#0B3196" stroke="#2a2a2a" stroke-width="0.8"/>
<rect x="555.3" y="177.08" width="11.30" height="43.92" fill="#C08F50" stroke="#2a2a2a" stroke-width="0.8"/>
<rect x="572.3" y="175.88" width="11.70" height="45.12" fill="#E5141C" stroke="#2a2a2a" stroke-width="0.8"/>
<rect x="589.6" y="179.62" width="11.50" height="41.38" fill="#0B3196" stroke="#2a2a2a" stroke-width="0.8"/>
<path d="M492.45,173.34 V176.54 M489.95,173.34 h5 M489.95,176.54 h5" stroke="#111" stroke-width="0.8" fill="none"/>
<circle cx="490.45" cy="168.00" r="1.55" fill="#0a0a0a"/>
<circle cx="495.85" cy="169.74" r="1.55" fill="#0a0a0a"/>
<circle cx="494.05" cy="171.47" r="1.55" fill="#0a0a0a"/>
<circle cx="490.75" cy="174.01" r="1.55" fill="#0a0a0a"/>
<circle cx="488.65" cy="176.14" r="1.55" fill="#0a0a0a"/>
<circle cx="492.15" cy="175.61" r="1.55" fill="#0a0a0a"/>
<circle cx="495.85" cy="175.61" r="1.55" fill="#0a0a0a"/>
<circle cx="492.15" cy="178.28" r="1.55" fill="#0a0a0a"/>
<circle cx="492.15" cy="183.62" r="1.55" fill="#0a0a0a"/>
<path d="M509.80,167.60 V174.28 M507.30,167.60 h5 M507.30,174.28 h5" stroke="#111" stroke-width="0.8" fill="none"/>
<circle cx="507.80" cy="161.73" r="1.55" fill="#0a0a0a"/>
<circle cx="509.60" cy="160.79" r="1.55" fill="#0a0a0a"/>
<circle cx="511.50" cy="164.93" r="1.55" fill="#0a0a0a"/>
<circle cx="511.00" cy="171.61" r="1.55" fill="#0a0a0a"/>
<circle cx="507.80" cy="174.68" r="1.55" fill="#0a0a0a"/>
<circle cx="509.60" cy="179.88" r="1.55" fill="#0a0a0a"/>
<circle cx="509.60" cy="185.89" r="1.55" fill="#0a0a0a"/>
<path d="M526.80,174.01 V176.41 M524.30,174.01 h5 M524.30,176.41 h5" stroke="#111" stroke-width="0.8" fill="none"/>
<circle cx="524.80" cy="170.94" r="1.55" fill="#0a0a0a"/>
<circle cx="528.60" cy="173.34" r="1.55" fill="#0a0a0a"/>
<circle cx="523.00" cy="176.81" r="1.55" fill="#0a0a0a"/>
<circle cx="530.40" cy="177.35" r="1.55" fill="#0a0a0a"/>
<circle cx="526.70" cy="179.35" r="1.55" fill="#0a0a0a"/>
<path d="M560.95,176.54 V177.61 M558.45,176.54 h5 M558.45,177.61 h5" stroke="#111" stroke-width="0.8" fill="none"/>
<circle cx="556.55" cy="177.08" r="1.55" fill="#0a0a0a"/>
<circle cx="559.05" cy="176.54" r="1.55" fill="#0a0a0a"/>
<circle cx="560.95" cy="174.94" r="1.55" fill="#0a0a0a"/>
<circle cx="563.15" cy="177.08" r="1.55" fill="#0a0a0a"/>
<circle cx="565.35" cy="176.14" r="1.55" fill="#0a0a0a"/>
<circle cx="559.45" cy="179.62" r="1.55" fill="#0a0a0a"/>
<path d="M578.15,173.47 V178.28 M575.65,173.47 h5 M575.65,178.28 h5" stroke="#111" stroke-width="0.8" fill="none"/>
<circle cx="578.15" cy="169.07" r="1.55" fill="#0a0a0a"/>
<circle cx="573.65" cy="176.14" r="1.55" fill="#0a0a0a"/>
<circle cx="576.55" cy="178.28" r="1.55" fill="#0a0a0a"/>
<circle cx="579.85" cy="177.35" r="1.55" fill="#0a0a0a"/>
<circle cx="582.55" cy="175.61" r="1.55" fill="#0a0a0a"/>
<path d="M595.35,179.21 V180.02 M592.85,179.21 h5 M592.85,180.02 h5" stroke="#111" stroke-width="0.8" fill="none"/>
<circle cx="591.15" cy="178.68" r="1.55" fill="#0a0a0a"/>
<circle cx="595.35" cy="182.02" r="1.55" fill="#0a0a0a"/>
<circle cx="599.45" cy="179.75" r="1.55" fill="#0a0a0a"/>
<circle cx="592.95" cy="179.62" r="1.55" fill="#0a0a0a"/>
<circle cx="597.55" cy="180.28" r="1.55" fill="#0a0a0a"/>
<path d="M484.5,140.9 V221.0" fill="none" stroke="#aaa" stroke-width="1.3"/>
<path d="M483.9,221.0 H604.2" fill="none" stroke="#222" stroke-width="1"/>
<line x1="481.7" y1="221.00" x2="484.5" y2="221.00" stroke="#444" stroke-width="1"/>
<text x="481.30" y="224.70" font-size="10.2" text-anchor="end" fill="#161616" stroke="#161616" stroke-width="0.15" >0</text>
<line x1="481.7" y1="194.30" x2="484.5" y2="194.30" stroke="#444" stroke-width="1"/>
<text x="481.30" y="198.00" font-size="10.2" text-anchor="end" fill="#161616" stroke="#161616" stroke-width="0.15" >0.02</text>
<line x1="481.7" y1="167.60" x2="484.5" y2="167.60" stroke="#444" stroke-width="1"/>
<text x="481.30" y="171.30" font-size="10.2" text-anchor="end" fill="#161616" stroke="#161616" stroke-width="0.15" >0.04</text>
<line x1="481.7" y1="140.90" x2="484.5" y2="140.90" stroke="#444" stroke-width="1"/>
<text x="481.30" y="144.60" font-size="10.2" text-anchor="end" fill="#161616" stroke="#161616" stroke-width="0.15" >0.06</text>
<line x1="492.45" y1="221.0" x2="492.45" y2="224.0" stroke="#444" stroke-width="0.9"/>
<line x1="509.80" y1="221.0" x2="509.80" y2="224.0" stroke="#444" stroke-width="0.9"/>
<line x1="526.80" y1="221.0" x2="526.80" y2="224.0" stroke="#444" stroke-width="0.9"/>
<line x1="560.95" y1="221.0" x2="560.95" y2="224.0" stroke="#444" stroke-width="0.9"/>
<line x1="578.15" y1="221.0" x2="578.15" y2="224.0" stroke="#444" stroke-width="0.9"/>
<line x1="595.35" y1="221.0" x2="595.35" y2="224.0" stroke="#444" stroke-width="0.9"/>
<text x="512.20" y="231.70" font-size="10.4" text-anchor="middle" fill="#161616" stroke="#161616" stroke-width="0.15" >non-Lot1</text>
<text x="580.90" y="231.70" font-size="10.4" text-anchor="middle" fill="#161616" stroke="#161616" stroke-width="0.15" >Lot1</text>
<text x="459.8" y="177.0" font-size="10.5" text-anchor="middle" fill="#161616" stroke="#161616" stroke-width="0.15" transform="rotate(-90 459.8 177.0)">penis (g)</text>
<rect x="599.6" y="122.90" width="15.4" height="7.6" fill="#C08F50" stroke="#2a2a2a" stroke-width="0.8"/>
<text x="617.40" y="130.30" font-size="10.8" font-style="italic" fill="#161616" stroke="#161616" stroke-width="0.15">Mypt1<tspan font-size="8.0" dx="0" dy="-8.9">+/+</tspan></text>
<rect x="599.6" y="138.40" width="15.4" height="7.6" fill="#E5141C" stroke="#2a2a2a" stroke-width="0.8"/>
<text x="617.40" y="145.80" font-size="10.8" font-style="italic" fill="#161616" stroke="#161616" stroke-width="0.15">Mypt1<tspan font-size="8.0" dx="0.4" dy="-6.1">+/ΔSM</tspan></text>
<rect x="599.6" y="154.40" width="15.4" height="7.6" fill="#0B3196" stroke="#2a2a2a" stroke-width="0.8"/>
<text x="617.40" y="161.80" font-size="10.8" font-style="italic" fill="#161616" stroke="#161616" stroke-width="0.15">Mypt1<tspan font-size="8.0" dx="0.4" dy="-6.1">ΔSM/ΔSM</tspan></text>
<text x="455.80" y="372.90" font-size="14" fill="#161616" stroke="#161616" stroke-width="0.15" font-weight="bold" >f</text>
<rect x="486.5" y="414.89" width="11.90" height="42.61" fill="#C08F50" stroke="#2a2a2a" stroke-width="0.8"/>
<rect x="504.0" y="427.12" width="11.60" height="30.38" fill="#E5141C" stroke="#2a2a2a" stroke-width="0.8"/>
<rect x="521.0" y="451.19" width="11.60" height="6.31" fill="#0B3196" stroke="#2a2a2a" stroke-width="0.8"/>
<rect x="555.3" y="405.82" width="11.30" height="51.68" fill="#C08F50" stroke="#2a2a2a" stroke-width="0.8"/>
<rect x="572.3" y="414.50" width="11.70" height="43.00" fill="#E5141C" stroke="#2a2a2a" stroke-width="0.8"/>
<rect x="589.6" y="451.19" width="11.50" height="6.31" fill="#0B3196" stroke="#2a2a2a" stroke-width="0.8"/>
<path d="M492.45,412.53 V417.26 M489.95,412.53 h5 M489.95,417.26 h5" stroke="#111" stroke-width="0.8" fill="none"/>
<circle cx="492.45" cy="402.27" r="1.55" fill="#0a0a0a"/>
<circle cx="489.85" cy="406.22" r="1.55" fill="#0a0a0a"/>
<circle cx="494.45" cy="408.58" r="1.55" fill="#0a0a0a"/>
<circle cx="489.05" cy="410.95" r="1.55" fill="#0a0a0a"/>
<circle cx="492.95" cy="412.92" r="1.55" fill="#0a0a0a"/>
<circle cx="495.55" cy="412.92" r="1.55" fill="#0a0a0a"/>
<circle cx="488.75" cy="422.00" r="1.55" fill="#0a0a0a"/>
<circle cx="492.45" cy="420.42" r="1.55" fill="#0a0a0a"/>
<circle cx="489.85" cy="421.60" r="1.55" fill="#0a0a0a"/>
<circle cx="492.15" cy="426.73" r="1.55" fill="#0a0a0a"/>
<circle cx="496.05" cy="426.33" r="1.55" fill="#0a0a0a"/>
<circle cx="493.95" cy="426.73" r="1.55" fill="#0a0a0a"/>
<path d="M509.80,425.55 V428.70 M507.30,425.55 h5 M507.30,428.70 h5" stroke="#111" stroke-width="0.8" fill="none"/>
<circle cx="509.80" cy="418.05" r="1.55" fill="#0a0a0a"/>
<circle cx="507.00" cy="423.57" r="1.55" fill="#0a0a0a"/>
<circle cx="512.10" cy="421.21" r="1.55" fill="#0a0a0a"/>
<circle cx="506.30" cy="425.94" r="1.55" fill="#0a0a0a"/>
<circle cx="509.40" cy="425.15" r="1.55" fill="#0a0a0a"/>
<circle cx="511.70" cy="426.73" r="1.55" fill="#0a0a0a"/>
<circle cx="507.80" cy="429.10" r="1.55" fill="#0a0a0a"/>
<circle cx="510.10" cy="431.46" r="1.55" fill="#0a0a0a"/>
<circle cx="509.40" cy="436.20" r="1.55" fill="#0a0a0a"/>
<path d="M526.80,450.00 V452.37 M524.30,450.00 h5 M524.30,452.37 h5" stroke="#111" stroke-width="0.8" fill="none"/>
<circle cx="526.80" cy="441.72" r="1.55" fill="#0a0a0a"/>
<circle cx="523.70" cy="448.82" r="1.55" fill="#0a0a0a"/>
<circle cx="529.50" cy="448.82" r="1.55" fill="#0a0a0a"/>
<circle cx="524.90" cy="451.98" r="1.55" fill="#0a0a0a"/>
<circle cx="528.30" cy="451.98" r="1.55" fill="#0a0a0a"/>
<circle cx="526.80" cy="453.56" r="1.55" fill="#0a0a0a"/>
<circle cx="524.10" cy="454.34" r="1.55" fill="#0a0a0a"/>
<circle cx="529.20" cy="454.34" r="1.55" fill="#0a0a0a"/>
<path d="M560.95,402.66 V408.98 M558.45,402.66 h5 M558.45,408.98 h5" stroke="#111" stroke-width="0.8" fill="none"/>
<circle cx="557.45" cy="391.54" r="1.55" fill="#0a0a0a"/>
<circle cx="559.55" cy="392.01" r="1.55" fill="#0a0a0a"/>
<circle cx="562.15" cy="392.01" r="1.55" fill="#0a0a0a"/>
<circle cx="564.45" cy="391.54" r="1.55" fill="#0a0a0a"/>
<circle cx="560.55" cy="401.48" r="1.55" fill="#0a0a0a"/>
<circle cx="562.15" cy="403.45" r="1.55" fill="#0a0a0a"/>
<circle cx="563.65" cy="405.43" r="1.55" fill="#0a0a0a"/>
<circle cx="558.55" cy="409.37" r="1.55" fill="#0a0a0a"/>
<circle cx="564.45" cy="411.34" r="1.55" fill="#0a0a0a"/>
<circle cx="557.05" cy="415.68" r="1.55" fill="#0a0a0a"/>
<circle cx="561.35" cy="415.68" r="1.55" fill="#0a0a0a"/>
<circle cx="559.45" cy="415.68" r="1.55" fill="#0a0a0a"/>
<circle cx="561.05" cy="425.15" r="1.55" fill="#0a0a0a"/>
<path d="M578.15,412.92 V416.08 M575.65,412.92 h5 M575.65,416.08 h5" stroke="#111" stroke-width="0.8" fill="none"/>
<circle cx="573.65" cy="408.98" r="1.55" fill="#0a0a0a"/>
<circle cx="575.55" cy="409.37" r="1.55" fill="#0a0a0a"/>
<circle cx="580.65" cy="407.40" r="1.55" fill="#0a0a0a"/>
<circle cx="576.75" cy="412.92" r="1.55" fill="#0a0a0a"/>
<circle cx="580.65" cy="412.13" r="1.55" fill="#0a0a0a"/>
<circle cx="575.15" cy="420.02" r="1.55" fill="#0a0a0a"/>
<circle cx="577.55" cy="418.84" r="1.55" fill="#0a0a0a"/>
<circle cx="579.85" cy="418.05" r="1.55" fill="#0a0a0a"/>
<circle cx="576.45" cy="421.21" r="1.55" fill="#0a0a0a"/>
<path d="M595.35,450.00 V452.37 M592.85,450.00 h5 M592.85,452.37 h5" stroke="#111" stroke-width="0.8" fill="none"/>
<circle cx="592.05" cy="448.03" r="1.55" fill="#0a0a0a"/>
<circle cx="595.55" cy="448.03" r="1.55" fill="#0a0a0a"/>
<circle cx="598.65" cy="446.45" r="1.55" fill="#0a0a0a"/>
<circle cx="593.15" cy="451.58" r="1.55" fill="#0a0a0a"/>
<circle cx="597.05" cy="451.19" r="1.55" fill="#0a0a0a"/>
<circle cx="594.75" cy="453.56" r="1.55" fill="#0a0a0a"/>
<path d="M484.0,378.6 V457.5" fill="none" stroke="#aaa" stroke-width="1.3"/>
<path d="M483.4,457.5 H604.2" fill="none" stroke="#222" stroke-width="1"/>
<line x1="481.2" y1="457.50" x2="484.0" y2="457.50" stroke="#444" stroke-width="1"/>
<text x="480.80" y="461.20" font-size="10.2" text-anchor="end" fill="#161616" stroke="#161616" stroke-width="0.15" >0</text>
<line x1="481.2" y1="441.72" x2="484.0" y2="441.72" stroke="#444" stroke-width="1"/>
<text x="480.80" y="445.42" font-size="10.2" text-anchor="end" fill="#161616" stroke="#161616" stroke-width="0.15" >0.2</text>
<line x1="481.2" y1="425.94" x2="484.0" y2="425.94" stroke="#444" stroke-width="1"/>
<text x="480.80" y="429.64" font-size="10.2" text-anchor="end" fill="#161616" stroke="#161616" stroke-width="0.15" >0.4</text>
<line x1="481.2" y1="410.16" x2="484.0" y2="410.16" stroke="#444" stroke-width="1"/>
<text x="480.80" y="413.86" font-size="10.2" text-anchor="end" fill="#161616" stroke="#161616" stroke-width="0.15" >0.6</text>
<line x1="481.2" y1="394.38" x2="484.0" y2="394.38" stroke="#444" stroke-width="1"/>
<text x="480.80" y="398.08" font-size="10.2" text-anchor="end" fill="#161616" stroke="#161616" stroke-width="0.15" >0.8</text>
<line x1="481.2" y1="378.60" x2="484.0" y2="378.60" stroke="#444" stroke-width="1"/>
<text x="480.80" y="382.30" font-size="10.2" text-anchor="end" fill="#161616" stroke="#161616" stroke-width="0.15" >1.0</text>
<line x1="492.45" y1="457.5" x2="492.45" y2="460.5" stroke="#444" stroke-width="0.9"/>
<line x1="509.80" y1="457.5" x2="509.80" y2="460.5" stroke="#444" stroke-width="0.9"/>
<line x1="526.80" y1="457.5" x2="526.80" y2="460.5" stroke="#444" stroke-width="0.9"/>
<line x1="560.95" y1="457.5" x2="560.95" y2="460.5" stroke="#444" stroke-width="0.9"/>
<line x1="578.15" y1="457.5" x2="578.15" y2="460.5" stroke="#444" stroke-width="0.9"/>
<line x1="595.35" y1="457.5" x2="595.35" y2="460.5" stroke="#444" stroke-width="0.9"/>
<text x="512.20" y="470.60" font-size="10.4" text-anchor="middle" fill="#161616" stroke="#161616" stroke-width="0.15" >non-Lot1</text>
<text x="580.90" y="470.60" font-size="10.4" text-anchor="middle" fill="#161616" stroke="#161616" stroke-width="0.15" >Lot1</text>
<text x="462.0" y="415.3" font-size="10.5" text-anchor="middle" fill="#161616" stroke="#161616" stroke-width="0.15" transform="rotate(-90 462.0 415.3)">ICP/MAP</text>
<path d="M492.7,371.2 H561.2 M492.7,369.0 V373.4 M561.2,369.0 V373.4" stroke="#555" stroke-width="0.9" fill="none"/>
<text x="531.30" y="369.60" font-size="10.9" text-anchor="middle" fill="#161616" stroke="#161616" stroke-width="0.15" >p=0.649</text>
<path d="M508.8,378.4 H578.5 M508.8,376.2 V380.59999999999997 M578.5,376.2 V380.59999999999997" stroke="#555" stroke-width="0.9" fill="none"/>
<text x="548.00" y="382.30" font-size="10.2" text-anchor="middle" fill="#161616" stroke="#161616" stroke-width="0.15" >***</text>
<path d="M526.4,387.8 H595.4 M526.4,385.6 V390.0 M595.4,385.6 V390.0" stroke="#555" stroke-width="0.9" fill="none"/>
<text x="562.60" y="386.00" font-size="10.5" text-anchor="middle" fill="#161616" stroke="#161616" stroke-width="0.15" >n.s.</text>
<rect x="599.6" y="338.90" width="15.4" height="7.6" fill="#C08F50" stroke="#2a2a2a" stroke-width="0.8"/>
<text x="617.40" y="346.30" font-size="10.8" font-style="italic" fill="#161616" stroke="#161616" stroke-width="0.15">Mypt1<tspan font-size="8.0" dx="0" dy="-8.9">+/+</tspan></text>
<rect x="599.6" y="354.90" width="15.4" height="7.6" fill="#E5141C" stroke="#2a2a2a" stroke-width="0.8"/>
<text x="617.40" y="362.30" font-size="10.8" font-style="italic" fill="#161616" stroke="#161616" stroke-width="0.15">Mypt1<tspan font-size="8.0" dx="0.4" dy="-6.1">+/ΔSM</tspan></text>
<rect x="599.6" y="370.90" width="15.4" height="7.6" fill="#0B3196" stroke="#2a2a2a" stroke-width="0.8"/>
<text x="617.40" y="378.30" font-size="10.8" font-style="italic" fill="#161616" stroke="#161616" stroke-width="0.15">Mypt1<tspan font-size="8.0" dx="0.4" dy="-6.1">ΔSM/ΔSM</tspan></text>
</svg>
</body></html>
